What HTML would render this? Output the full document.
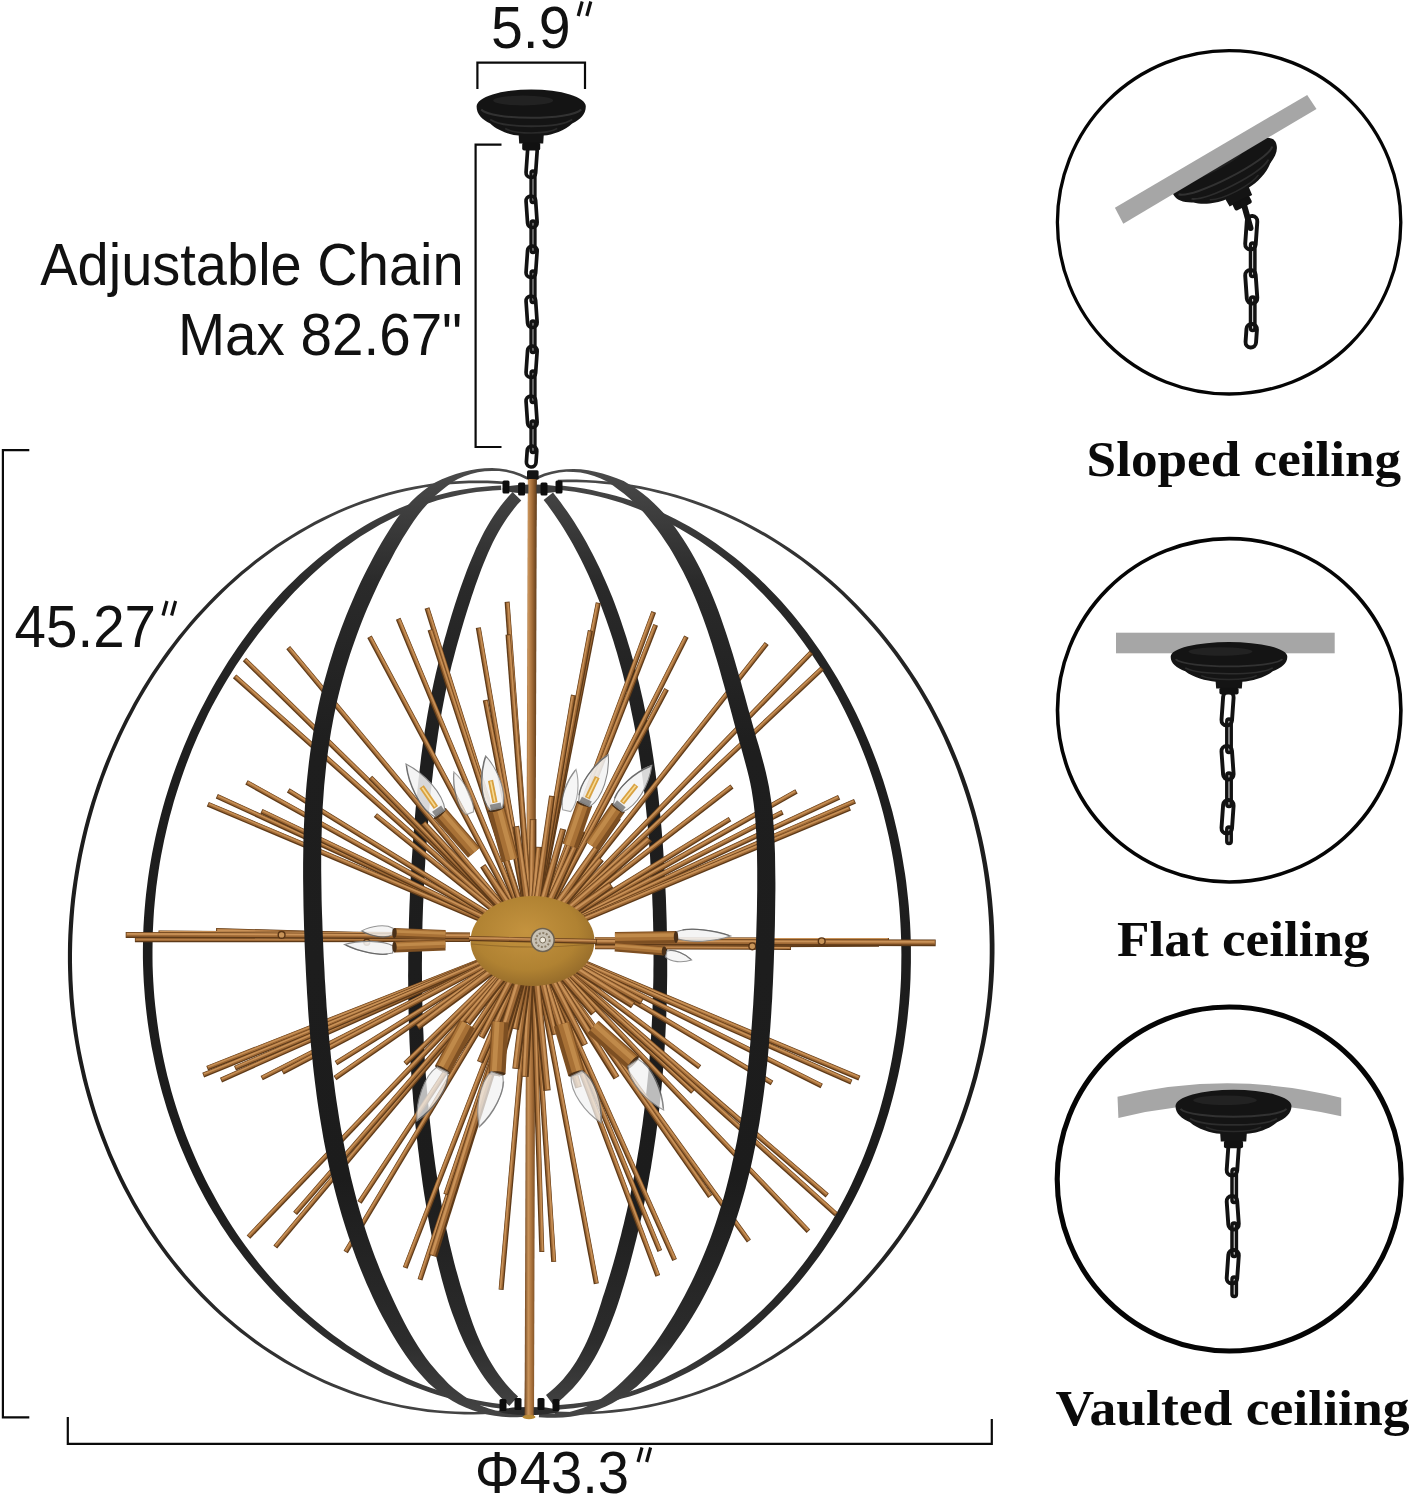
<!DOCTYPE html><html><head><meta charset="utf-8"><style>html,body{margin:0;padding:0;background:#fff}svg{display:block}text{font-family:"Liberation Sans",sans-serif;fill:#111}.ser{font-family:"Liberation Serif",serif;font-weight:bold;fill:#0a0a0a}</style></head><body>
<svg width="1412" height="1500" viewBox="0 0 1412 1500">
<defs>
<linearGradient id="band" gradientUnits="userSpaceOnUse" x1="0" y1="470" x2="0" y2="1415"><stop offset="0" stop-color="#4a4a4a"/><stop offset="0.12" stop-color="#2a2a2a"/><stop offset="0.3" stop-color="#1e1e1e"/><stop offset="0.75" stop-color="#1c1c1c"/><stop offset="0.92" stop-color="#2c2c2c"/><stop offset="1" stop-color="#444"/></linearGradient>
<radialGradient id="hubg" cx="0.45" cy="0.4" r="0.7"><stop offset="0" stop-color="#c4933f"/><stop offset="0.6" stop-color="#b08232"/><stop offset="1" stop-color="#8a6227"/></radialGradient>
<linearGradient id="rod" gradientUnits="userSpaceOnUse" x1="524.5" x2="537" y1="0" y2="0"><stop offset="0" stop-color="#6d4420"/><stop offset="0.3" stop-color="#c9935a"/><stop offset="0.6" stop-color="#a46d38"/><stop offset="1" stop-color="#5e3a18"/></linearGradient>
</defs>
<rect width="1412" height="1500" fill="#fff"/>
<text x="40.2" y="285.1" font-size="58.5" textLength="423.5" lengthAdjust="spacingAndGlyphs">Adjustable Chain</text>
<text x="178" y="355" font-size="58.5" textLength="284.2" lengthAdjust="spacingAndGlyphs">Max 82.67"</text>
<text x="14.6" y="647.3" font-size="58.5" textLength="141.4" lengthAdjust="spacingAndGlyphs">45.27</text>
<text x="474.8" y="1493" font-size="58.5" textLength="154.3" lengthAdjust="spacingAndGlyphs">Φ43.3</text>
<text x="491" y="47.6" font-size="58.5" textLength="79.6" lengthAdjust="spacingAndGlyphs">5.9</text>
<path d="M578.2 16.0 l4 -14.5 M586.8 16.0 l4 -14.5" stroke="#111" stroke-width="3.2" fill="none"/>
<path d="M163.0 615.5 l4 -14.5 M171.6 615.5 l4 -14.5" stroke="#111" stroke-width="3.2" fill="none"/>
<path d="M638.0 1462.0 l4 -14.5 M646.6 1462.0 l4 -14.5" stroke="#111" stroke-width="3.2" fill="none"/>
<g fill="none" stroke="#0a0a0a" stroke-width="2.2">
<path d="M477.4 89 V62.7 H585 V89"/>
<path d="M501.5 144.6 H475.6 V447 H501.5"/>
<path d="M29.3 450.2 H2.9 V1417.4 H29.3"/>
<path d="M67.8 1417 V1443.8 H991.8 V1419"/>
</g>
<text class="ser" x="1086.6" y="476.2" font-size="50.4" textLength="314.6" lengthAdjust="spacingAndGlyphs">Sloped ceiling</text>
<text class="ser" x="1117" y="955.6" font-size="50.4" textLength="252.7" lengthAdjust="spacingAndGlyphs">Flat ceiling</text>
<text class="ser" x="1055.6" y="1425" font-size="50.4" textLength="354" lengthAdjust="spacingAndGlyphs">Vaulted ceiliing</text>
<circle cx="1229.1" cy="222.3" r="171.7" fill="none" stroke="#050505" stroke-width="3.3"/>
<circle cx="1229.2" cy="710.3" r="171.7" fill="none" stroke="#050505" stroke-width="3.6"/>
<circle cx="1229.2" cy="1179" r="172" fill="none" stroke="#050505" stroke-width="5.1"/>
<g transform="translate(1224.1 167.7) rotate(-27.0) scale(1.053 1.000)"><path d="M-54.6,0 A54.6,17 0 0 1 54.6,0 C54.6,8 49,13 41,17 C34,24 21,28.5 12.5,29 L12,37 L-12,37 L-12.5,29 C-21,28.5 -34,24 -41,17 C-49,13 -54.6,8 -54.6,0Z" fill="#141414"/><path d="M-50,3 C-40,14 40,14 50,3" fill="none" stroke="#3a3a3a" stroke-width="2" opacity="0.8"/><path d="M-41,13 C-28,22 28,22 41,13" fill="none" stroke="#333" stroke-width="1.8" opacity="0.8"/><path d="M-26,22 C-16,28 16,28 26,22" fill="none" stroke="#303030" stroke-width="1.5" opacity="0.8"/><ellipse cx="-8" cy="-6" rx="30" ry="5" fill="#2c2c2c" opacity="0.6"/><rect x="-9" y="36" width="18" height="8" rx="2" fill="#111"/></g>
<polygon points="1114.9,207.8 1307.2,94.9 1316.5,108.9 1123.3,223.7" fill="#a6a6a6"/>
<path d="M1243.5,203 L1250.5,228" stroke="#121212" stroke-width="6" stroke-linecap="round"/>
<g fill="none" stroke="#121212" stroke-linecap="round"><rect x="1246.0" y="216.0" width="10.5" height="33.5" rx="5.2" stroke-width="3.9" transform="rotate(4.0 1251.3 232.8)"/><rect x="1250.5" y="243.0" width="4.4" height="33.5" rx="2.2" stroke-width="3.5" transform="rotate(0.0 1252.7 259.8)"/><rect x="1246.0" y="270.0" width="10.5" height="33.5" rx="5.2" stroke-width="3.9" transform="rotate(-4.0 1251.3 286.8)"/><rect x="1250.5" y="297.0" width="4.4" height="33.5" rx="2.2" stroke-width="3.5" transform="rotate(0.0 1252.7 313.8)"/><rect x="1246.0" y="324.0" width="10.5" height="23.5" rx="5.2" stroke-width="3.9" transform="rotate(4.0 1251.3 335.8)"/></g>
<rect x="1116" y="632.7" width="218.7" height="20.6" fill="#a6a6a6"/>
<g fill="none" stroke="#121212" stroke-linecap="round"><rect x="1222.3" y="692.0" width="10.5" height="33.5" rx="5.2" stroke-width="3.9" transform="rotate(4.0 1227.6 708.8)"/><rect x="1226.8" y="719.0" width="4.4" height="33.5" rx="2.2" stroke-width="3.5" transform="rotate(0.0 1229.0 735.8)"/><rect x="1222.3" y="746.0" width="10.5" height="33.5" rx="5.2" stroke-width="3.9" transform="rotate(-4.0 1227.6 762.8)"/><rect x="1226.8" y="773.0" width="4.4" height="33.5" rx="2.2" stroke-width="3.5" transform="rotate(0.0 1229.0 789.8)"/><rect x="1222.3" y="800.0" width="10.5" height="33.5" rx="5.2" stroke-width="3.9" transform="rotate(4.0 1227.6 816.8)"/><rect x="1226.8" y="827.0" width="4.4" height="16.5" rx="2.2" stroke-width="3.5" transform="rotate(0.0 1229.0 835.2)"/></g>
<g transform="translate(1229.0 656.7) rotate(0.0) scale(1.068 0.860)"><path d="M-54.6,0 A54.6,17 0 0 1 54.6,0 C54.6,8 49,13 41,17 C34,24 21,28.5 12.5,29 L12,37 L-12,37 L-12.5,29 C-21,28.5 -34,24 -41,17 C-49,13 -54.6,8 -54.6,0Z" fill="#141414"/><path d="M-50,3 C-40,14 40,14 50,3" fill="none" stroke="#3a3a3a" stroke-width="2" opacity="0.8"/><path d="M-41,13 C-28,22 28,22 41,13" fill="none" stroke="#333" stroke-width="1.8" opacity="0.8"/><path d="M-26,22 C-16,28 16,28 26,22" fill="none" stroke="#303030" stroke-width="1.5" opacity="0.8"/><ellipse cx="-8" cy="-6" rx="30" ry="5" fill="#2c2c2c" opacity="0.6"/><rect x="-9" y="36" width="18" height="8" rx="2" fill="#111"/></g>
<path d="M1117.5,1096.8 Q1229,1069.5 1341.2,1097.7 L1341.2,1116.2 Q1229,1090.5 1118.4,1118Z" fill="#a6a6a6"/>
<g fill="none" stroke="#121212" stroke-linecap="round"><rect x="1227.5" y="1142.0" width="10.5" height="33.5" rx="5.2" stroke-width="3.9" transform="rotate(4.0 1232.8 1158.8)"/><rect x="1232.0" y="1169.0" width="4.4" height="33.5" rx="2.2" stroke-width="3.5" transform="rotate(0.0 1234.2 1185.8)"/><rect x="1227.5" y="1196.0" width="10.5" height="33.5" rx="5.2" stroke-width="3.9" transform="rotate(-4.0 1232.8 1212.8)"/><rect x="1232.0" y="1223.0" width="4.4" height="33.5" rx="2.2" stroke-width="3.5" transform="rotate(0.0 1234.2 1239.8)"/><rect x="1227.5" y="1250.0" width="10.5" height="33.5" rx="5.2" stroke-width="3.9" transform="rotate(4.0 1232.8 1266.8)"/><rect x="1232.0" y="1277.0" width="4.4" height="19.5" rx="2.2" stroke-width="3.5" transform="rotate(0.0 1234.2 1286.8)"/></g>
<g transform="translate(1233.5 1106.0) rotate(0.0) scale(1.062 0.960)"><path d="M-54.6,0 A54.6,17 0 0 1 54.6,0 C54.6,8 49,13 41,17 C34,24 21,28.5 12.5,29 L12,37 L-12,37 L-12.5,29 C-21,28.5 -34,24 -41,17 C-49,13 -54.6,8 -54.6,0Z" fill="#141414"/><path d="M-50,3 C-40,14 40,14 50,3" fill="none" stroke="#3a3a3a" stroke-width="2" opacity="0.8"/><path d="M-41,13 C-28,22 28,22 41,13" fill="none" stroke="#333" stroke-width="1.8" opacity="0.8"/><path d="M-26,22 C-16,28 16,28 26,22" fill="none" stroke="#303030" stroke-width="1.5" opacity="0.8"/><ellipse cx="-8" cy="-6" rx="30" ry="5" fill="#2c2c2c" opacity="0.6"/><rect x="-9" y="36" width="18" height="8" rx="2" fill="#111"/></g>
<g fill="none" stroke="#121212" stroke-linecap="round"><rect x="526.8" y="146.0" width="9.6" height="31.5" rx="4.8" stroke-width="3.7" transform="rotate(4.0 531.6 161.8)"/><rect x="531.0" y="171.0" width="4.0" height="31.5" rx="2.0" stroke-width="3.3" transform="rotate(0.0 533.0 186.8)"/><rect x="526.8" y="196.0" width="9.6" height="31.5" rx="4.8" stroke-width="3.7" transform="rotate(-4.0 531.6 211.8)"/><rect x="531.0" y="221.0" width="4.0" height="31.5" rx="2.0" stroke-width="3.3" transform="rotate(0.0 533.0 236.8)"/><rect x="526.8" y="246.0" width="9.6" height="31.5" rx="4.8" stroke-width="3.7" transform="rotate(4.0 531.6 261.8)"/><rect x="531.0" y="271.0" width="4.0" height="31.5" rx="2.0" stroke-width="3.3" transform="rotate(0.0 533.0 286.8)"/><rect x="526.8" y="296.0" width="9.6" height="31.5" rx="4.8" stroke-width="3.7" transform="rotate(-4.0 531.6 311.8)"/><rect x="531.0" y="321.0" width="4.0" height="31.5" rx="2.0" stroke-width="3.3" transform="rotate(0.0 533.0 336.8)"/><rect x="526.8" y="346.0" width="9.6" height="31.5" rx="4.8" stroke-width="3.7" transform="rotate(4.0 531.6 361.8)"/><rect x="531.0" y="371.0" width="4.0" height="31.5" rx="2.0" stroke-width="3.3" transform="rotate(0.0 533.0 386.8)"/><rect x="526.8" y="396.0" width="9.6" height="31.5" rx="4.8" stroke-width="3.7" transform="rotate(-4.0 531.6 411.8)"/><rect x="531.0" y="421.0" width="4.0" height="31.5" rx="2.0" stroke-width="3.3" transform="rotate(0.0 533.0 436.8)"/><rect x="526.8" y="446.0" width="9.6" height="21.0" rx="4.8" stroke-width="3.7" transform="rotate(4.0 531.6 456.5)"/></g>
<g transform="translate(531.2 106.5) rotate(0.0) scale(1.000 1.000)"><path d="M-54.6,0 A54.6,17 0 0 1 54.6,0 C54.6,8 49,13 41,17 C34,24 21,28.5 12.5,29 L12,37 L-12,37 L-12.5,29 C-21,28.5 -34,24 -41,17 C-49,13 -54.6,8 -54.6,0Z" fill="#141414"/><path d="M-50,3 C-40,14 40,14 50,3" fill="none" stroke="#3a3a3a" stroke-width="2" opacity="0.8"/><path d="M-41,13 C-28,22 28,22 41,13" fill="none" stroke="#333" stroke-width="1.8" opacity="0.8"/><path d="M-26,22 C-16,28 16,28 26,22" fill="none" stroke="#303030" stroke-width="1.5" opacity="0.8"/><ellipse cx="-8" cy="-6" rx="30" ry="5" fill="#2c2c2c" opacity="0.6"/><rect x="-9" y="36" width="18" height="8" rx="2" fill="#111"/></g>
<path d="M506.5,481.7 L497.0,481.0 L487.6,480.6 L478.3,480.5 L469.0,480.6 L459.7,481.0 L450.5,481.6 L441.4,482.5 L432.4,483.6 L423.4,484.9 L414.5,486.5 L405.7,488.3 L397.0,490.3 L388.3,492.6 L379.7,495.1 L371.2,497.7 L362.7,500.6 L354.4,503.7 L346.1,507.0 L338.0,510.5 L329.9,514.2 L321.9,518.1 L314.0,522.1 L306.2,526.4 L298.5,530.8 L290.9,535.4 L283.3,540.2 L275.9,545.1 L268.6,550.2 L261.4,555.4 L254.4,560.8 L247.4,566.4 L240.5,572.1 L233.7,577.9 L227.1,583.9 L220.6,590.0 L214.2,596.3 L207.9,602.7 L201.8,609.2 L195.7,615.8 L189.8,622.5 L184.1,629.4 L178.4,636.3 L172.9,643.4 L167.5,650.6 L162.3,657.8 L157.2,665.2 L152.2,672.6 L147.3,680.2 L142.6,687.8 L138.1,695.5 L133.6,703.3 L129.4,711.2 L125.2,719.1 L121.2,727.2 L117.3,735.3 L113.6,743.4 L110.0,751.7 L106.5,759.9 L103.2,768.3 L100.1,776.7 L97.0,785.2 L94.2,793.7 L91.4,802.3 L88.8,810.9 L86.4,819.6 L84.1,828.3 L82.0,837.0 L80.0,845.8 L78.1,854.6 L76.4,863.5 L74.9,872.3 L73.5,881.3 L72.2,890.2 L71.1,899.1 L70.2,908.1 L69.4,917.1 L68.8,926.1 L68.3,935.1 L68.0,944.1 L67.9,953.1 L67.9,962.2 L68.1,971.2 L68.4,980.2 L68.9,989.2 L69.5,998.2 L70.3,1007.2 L71.3,1016.2 L72.4,1025.2 L73.7,1034.1 L75.2,1043.0 L76.8,1051.9 L78.5,1060.8 L80.5,1069.6 L82.5,1078.4 L84.8,1087.2 L87.2,1095.9 L89.7,1104.6 L92.4,1113.2 L95.2,1121.7 L98.2,1130.2 L101.4,1138.7 L104.7,1147.1 L108.1,1155.4 L111.7,1163.6 L115.4,1171.8 L119.3,1179.9 L123.3,1187.9 L127.5,1195.8 L131.8,1203.7 L136.3,1211.5 L140.9,1219.1 L145.6,1226.7 L150.5,1234.2 L155.5,1241.6 L160.7,1248.8 L166.0,1256.0 L171.5,1263.0 L177.0,1270.0 L182.7,1276.8 L188.6,1283.5 L194.6,1290.0 L200.7,1296.5 L207.0,1302.8 L213.4,1308.9 L219.9,1315.0 L226.5,1320.8 L233.3,1326.6 L240.2,1332.2 L247.3,1337.6 L254.4,1342.9 L261.7,1348.0 L269.1,1353.0 L276.6,1357.8 L284.2,1362.4 L292.0,1366.8 L299.8,1371.1 L307.7,1375.2 L315.7,1379.1 L323.9,1382.9 L332.1,1386.4 L340.4,1389.7 L348.8,1392.9 L357.2,1395.9 L365.8,1398.6 L374.4,1401.1 L383.1,1403.5 L391.9,1405.6 L400.8,1407.5 L409.7,1409.2 L418.7,1410.6 L427.7,1411.9 L436.8,1412.8 L446.0,1413.6 L455.2,1414.1 L464.4,1414.4 L473.7,1414.5 L483.1,1414.2 L492.5,1413.8 L501.9,1413.1 L501.7,1410.5 L492.3,1411.2 L483.0,1411.7 L473.7,1411.9 L464.5,1411.8 L455.3,1411.5 L446.2,1411.0 L437.1,1410.3 L428.0,1409.3 L419.1,1408.0 L410.1,1406.6 L401.3,1404.9 L392.5,1403.0 L383.8,1400.9 L375.2,1398.5 L366.6,1396.0 L358.1,1393.2 L349.7,1390.3 L341.4,1387.1 L333.2,1383.8 L325.0,1380.2 L317.0,1376.5 L309.0,1372.6 L301.2,1368.5 L293.4,1364.2 L285.8,1359.8 L278.3,1355.1 L270.8,1350.3 L263.5,1345.4 L256.3,1340.3 L249.3,1335.0 L242.3,1329.6 L235.5,1324.0 L228.8,1318.3 L222.2,1312.4 L215.8,1306.4 L209.5,1300.2 L203.3,1294.0 L197.2,1287.6 L191.3,1281.1 L185.5,1274.4 L179.9,1267.6 L174.3,1260.8 L168.9,1253.8 L163.7,1246.7 L158.6,1239.4 L153.6,1232.1 L148.8,1224.7 L144.1,1217.2 L139.5,1209.6 L135.1,1201.9 L130.8,1194.1 L126.7,1186.2 L122.7,1178.2 L118.9,1170.2 L115.2,1162.1 L111.6,1153.9 L108.2,1145.6 L105.0,1137.3 L101.9,1128.9 L98.9,1120.5 L96.1,1112.0 L93.5,1103.4 L91.0,1094.8 L88.6,1086.2 L86.4,1077.5 L84.4,1068.8 L82.5,1060.0 L80.7,1051.2 L79.1,1042.4 L77.7,1033.5 L76.5,1024.6 L75.3,1015.7 L74.4,1006.8 L73.6,997.9 L73.0,989.0 L72.5,980.0 L72.2,971.1 L72.0,962.1 L72.0,953.2 L72.2,944.2 L72.5,935.3 L73.0,926.3 L73.6,917.4 L74.3,908.5 L75.2,899.6 L76.3,890.7 L77.5,881.8 L78.9,873.0 L80.4,864.2 L82.0,855.4 L83.9,846.6 L85.8,837.9 L87.9,829.2 L90.2,820.6 L92.6,812.0 L95.1,803.4 L97.8,794.9 L100.7,786.4 L103.6,778.0 L106.8,769.7 L110.0,761.4 L113.4,753.1 L117.0,744.9 L120.7,736.8 L124.5,728.8 L128.5,720.8 L132.6,712.9 L136.8,705.1 L141.2,697.3 L145.7,689.7 L150.4,682.1 L155.2,674.6 L160.1,667.2 L165.2,659.9 L170.4,652.7 L175.7,645.5 L181.1,638.5 L186.7,631.6 L192.4,624.8 L198.3,618.1 L204.3,611.5 L210.4,605.0 L216.6,598.7 L222.9,592.4 L229.4,586.3 L235.9,580.4 L242.6,574.6 L249.4,568.9 L256.3,563.3 L263.3,557.9 L270.4,552.7 L277.7,547.6 L285.0,542.7 L292.4,537.9 L300.0,533.4 L307.6,528.9 L315.3,524.7 L323.2,520.7 L331.1,516.8 L339.1,513.1 L347.2,509.6 L355.4,506.3 L363.7,503.3 L372.0,500.4 L380.5,497.7 L389.0,495.2 L397.6,493.0 L406.3,491.0 L415.0,489.2 L423.9,487.6 L432.8,486.2 L441.7,485.1 L450.8,484.3 L459.9,483.7 L469.0,483.3 L478.3,483.2 L487.5,483.3 L496.9,483.7 L506.3,484.3Z" fill="url(#band)"/>
<path d="M557.9,482.3 L567.3,482.2 L576.7,482.3 L586.0,482.6 L595.2,483.1 L604.4,483.9 L613.6,484.8 L622.6,486.0 L631.6,487.4 L640.5,489.0 L649.4,490.8 L658.1,492.9 L666.8,495.1 L675.4,497.5 L684.0,500.1 L692.4,502.9 L700.8,505.9 L709.1,509.1 L717.3,512.5 L725.4,516.0 L733.4,519.7 L741.4,523.6 L749.2,527.7 L756.9,531.9 L764.6,536.3 L772.1,540.8 L779.6,545.6 L786.9,550.4 L794.1,555.5 L801.3,560.6 L808.3,565.9 L815.2,571.4 L822.0,577.0 L828.7,582.7 L835.2,588.6 L841.7,594.6 L848.0,600.8 L854.2,607.0 L860.3,613.4 L866.3,619.9 L872.1,626.5 L877.9,633.2 L883.4,640.1 L888.9,647.0 L894.2,654.0 L899.4,661.2 L904.4,668.4 L909.4,675.8 L914.1,683.2 L918.8,690.7 L923.3,698.4 L927.6,706.1 L931.8,713.8 L935.9,721.7 L939.8,729.6 L943.6,737.6 L947.2,745.7 L950.7,753.9 L954.1,762.1 L957.3,770.3 L960.3,778.7 L963.2,787.1 L966.0,795.5 L968.6,804.0 L971.1,812.5 L973.4,821.1 L975.5,829.7 L977.6,838.4 L979.4,847.1 L981.1,855.8 L982.7,864.6 L984.1,873.4 L985.3,882.2 L986.4,891.0 L987.3,899.9 L988.1,908.8 L988.7,917.6 L989.2,926.5 L989.5,935.4 L989.7,944.3 L989.7,953.3 L989.6,962.2 L989.2,971.1 L988.8,980.0 L988.2,988.9 L987.4,997.7 L986.4,1006.6 L985.3,1015.4 L984.0,1024.3 L982.6,1033.1 L981.0,1041.9 L979.2,1050.6 L977.3,1059.3 L975.2,1068.0 L973.0,1076.7 L970.6,1085.3 L968.1,1093.8 L965.4,1102.3 L962.5,1110.8 L959.5,1119.2 L956.4,1127.6 L953.1,1135.9 L949.7,1144.1 L946.1,1152.3 L942.4,1160.4 L938.6,1168.4 L934.6,1176.3 L930.4,1184.2 L926.1,1192.0 L921.7,1199.7 L917.2,1207.3 L912.5,1214.9 L907.7,1222.3 L902.8,1229.6 L897.7,1236.9 L892.5,1244.0 L887.1,1251.1 L881.7,1258.0 L876.1,1264.8 L870.4,1271.5 L864.6,1278.1 L858.6,1284.6 L852.5,1290.9 L846.4,1297.1 L840.1,1303.2 L833.6,1309.2 L827.1,1315.0 L820.5,1320.7 L813.7,1326.3 L806.9,1331.7 L799.9,1336.9 L792.8,1342.0 L785.6,1347.0 L778.3,1351.8 L770.9,1356.4 L763.4,1360.9 L755.8,1365.2 L748.0,1369.4 L740.2,1373.3 L732.3,1377.1 L724.3,1380.8 L716.1,1384.2 L707.9,1387.4 L699.6,1390.5 L691.2,1393.4 L682.7,1396.0 L674.1,1398.5 L665.5,1400.8 L656.7,1402.9 L647.9,1404.8 L638.9,1406.4 L629.9,1407.9 L620.8,1409.1 L611.6,1410.1 L602.3,1410.9 L593.0,1411.5 L583.6,1411.8 L574.1,1411.9 L564.5,1411.8 L554.9,1411.4 L554.7,1414.0 L564.4,1414.4 L574.1,1414.5 L583.6,1414.4 L593.1,1414.1 L602.5,1413.5 L611.9,1412.7 L621.1,1411.7 L630.3,1410.5 L639.4,1409.0 L648.4,1407.4 L657.3,1405.5 L666.1,1403.4 L674.9,1401.2 L683.5,1398.7 L692.1,1396.0 L700.6,1393.2 L708.9,1390.1 L717.2,1386.9 L725.4,1383.4 L733.5,1379.8 L741.5,1376.0 L749.4,1372.1 L757.2,1367.9 L764.9,1363.6 L772.5,1359.2 L780.0,1354.5 L787.4,1349.7 L794.7,1344.8 L801.9,1339.7 L809.0,1334.4 L815.9,1329.0 L822.8,1323.4 L829.5,1317.8 L836.1,1311.9 L842.6,1305.9 L849.0,1299.8 L855.3,1293.6 L861.4,1287.2 L867.4,1280.7 L873.3,1274.1 L879.1,1267.3 L884.7,1260.4 L890.3,1253.5 L895.6,1246.4 L900.9,1239.2 L906.0,1231.9 L911.0,1224.5 L915.9,1217.0 L920.7,1209.4 L925.3,1201.8 L929.7,1194.0 L934.1,1186.2 L938.2,1178.2 L942.3,1170.2 L946.2,1162.1 L950.0,1154.0 L953.6,1145.8 L957.1,1137.5 L960.4,1129.1 L963.6,1120.7 L966.6,1112.2 L969.5,1103.7 L972.2,1095.1 L974.8,1086.5 L977.3,1077.8 L979.5,1069.1 L981.6,1060.3 L983.6,1051.5 L985.4,1042.7 L987.0,1033.9 L988.5,1025.0 L989.8,1016.1 L991.0,1007.1 L992.0,998.2 L992.8,989.2 L993.5,980.3 L994.0,971.3 L994.3,962.3 L994.5,953.3 L994.5,944.3 L994.3,935.3 L994.0,926.3 L993.5,917.3 L992.8,908.4 L992.0,899.4 L991.0,890.5 L989.9,881.6 L988.6,872.7 L987.1,863.8 L985.5,855.0 L983.8,846.2 L981.9,837.4 L979.8,828.7 L977.6,820.0 L975.3,811.4 L972.7,802.8 L970.1,794.2 L967.3,785.7 L964.3,777.2 L961.2,768.9 L957.9,760.5 L954.5,752.3 L951.0,744.1 L947.3,735.9 L943.5,727.9 L939.5,719.9 L935.3,712.0 L931.1,704.1 L926.7,696.4 L922.1,688.7 L917.4,681.1 L912.6,673.7 L907.6,666.3 L902.5,659.0 L897.3,651.8 L891.9,644.7 L886.4,637.7 L880.7,630.8 L874.9,624.1 L869.0,617.4 L863.0,610.9 L856.8,604.5 L850.5,598.2 L844.1,592.1 L837.6,586.0 L830.9,580.1 L824.2,574.4 L817.3,568.8 L810.3,563.3 L803.2,558.0 L796.0,552.8 L788.7,547.8 L781.3,542.9 L773.8,538.2 L766.1,533.6 L758.4,529.2 L750.6,525.0 L742.7,520.9 L734.7,517.0 L726.6,513.3 L718.4,509.8 L710.2,506.4 L701.8,503.2 L693.4,500.2 L684.8,497.4 L676.2,494.8 L667.5,492.4 L658.8,490.2 L649.9,488.2 L641.0,486.3 L632.0,484.7 L623.0,483.3 L613.9,482.1 L604.7,481.2 L595.4,480.4 L586.1,479.9 L576.7,479.6 L567.3,479.5 L557.8,479.7Z" fill="url(#band)"/>
<path d="M501.1,485.6 L492.7,486.0 L484.4,486.7 L476.2,487.6 L468.0,488.7 L460.0,490.1 L452.0,491.6 L444.1,493.4 L436.3,495.5 L428.6,497.7 L421.0,500.1 L413.5,502.8 L406.1,505.6 L398.7,508.6 L391.4,511.8 L384.3,515.2 L377.2,518.8 L370.2,522.6 L363.4,526.6 L356.6,530.7 L349.9,535.0 L343.3,539.5 L336.8,544.1 L330.4,548.9 L324.1,553.8 L317.9,558.8 L311.8,563.9 L305.8,569.2 L299.9,574.6 L294.1,580.2 L288.4,585.8 L282.7,591.5 L277.2,597.4 L271.9,603.4 L266.7,609.5 L261.5,615.7 L256.5,621.9 L251.6,628.3 L246.8,634.7 L242.0,641.2 L237.4,647.7 L232.9,654.4 L228.5,661.1 L224.2,667.9 L220.1,674.7 L216.0,681.6 L212.0,688.6 L208.2,695.6 L204.4,702.7 L200.7,709.8 L197.1,717.0 L193.7,724.2 L190.3,731.5 L187.1,738.9 L184.0,746.3 L181.0,753.7 L178.1,761.2 L175.3,768.7 L172.6,776.3 L170.0,783.9 L167.6,791.6 L165.2,799.2 L163.0,807.0 L160.9,814.7 L158.9,822.5 L157.0,830.3 L155.2,838.2 L153.6,846.1 L152.0,854.0 L150.6,861.9 L149.3,869.8 L148.1,877.8 L147.1,885.8 L146.1,893.8 L145.3,901.8 L144.6,909.8 L144.0,917.9 L143.5,925.9 L143.2,934.0 L143.0,942.0 L142.9,950.1 L142.9,958.1 L143.1,966.2 L143.4,974.3 L143.8,982.3 L144.4,990.4 L145.0,998.4 L145.8,1006.4 L146.7,1014.5 L147.7,1022.5 L148.9,1030.5 L150.2,1038.4 L151.5,1046.4 L153.1,1054.3 L154.7,1062.2 L156.4,1070.0 L158.3,1077.9 L160.3,1085.7 L162.4,1093.5 L164.7,1101.2 L167.0,1108.9 L169.5,1116.5 L172.1,1124.1 L174.8,1131.7 L177.6,1139.2 L180.6,1146.7 L183.7,1154.1 L186.9,1161.5 L190.2,1168.8 L193.6,1176.0 L197.1,1183.2 L200.8,1190.3 L204.6,1197.4 L208.5,1204.4 L212.5,1211.3 L216.7,1218.1 L220.9,1224.9 L225.3,1231.6 L229.8,1238.2 L234.5,1244.7 L239.2,1251.1 L244.0,1257.5 L249.0,1263.8 L254.1,1270.0 L259.3,1276.0 L264.6,1282.0 L270.0,1287.9 L275.5,1293.7 L281.1,1299.4 L286.9,1305.0 L292.7,1310.5 L298.6,1315.9 L304.7,1321.1 L310.8,1326.3 L317.0,1331.3 L323.4,1336.2 L329.9,1340.9 L336.4,1345.5 L343.0,1350.0 L349.8,1354.3 L356.6,1358.5 L363.5,1362.6 L370.5,1366.5 L377.5,1370.2 L384.6,1373.9 L391.9,1377.3 L399.2,1380.6 L406.5,1383.8 L414.0,1386.8 L421.5,1389.6 L429.1,1392.3 L436.7,1394.8 L444.4,1397.1 L452.2,1399.3 L460.1,1401.2 L468.0,1403.0 L476.0,1404.7 L484.0,1406.1 L492.1,1407.4 L500.3,1408.4 L500.8,1404.0 L492.8,1402.9 L484.8,1401.7 L476.8,1400.3 L469.0,1398.6 L461.2,1396.8 L453.4,1394.8 L445.8,1392.6 L438.2,1390.2 L430.7,1387.7 L423.2,1385.0 L415.8,1382.1 L408.5,1379.0 L401.3,1375.8 L394.2,1372.5 L387.1,1368.9 L380.2,1365.2 L373.3,1361.4 L366.5,1357.4 L359.8,1353.3 L353.1,1349.1 L346.6,1344.7 L340.2,1340.1 L333.8,1335.5 L327.6,1330.7 L321.4,1325.8 L315.3,1320.8 L309.4,1315.7 L303.5,1310.5 L297.7,1305.1 L292.0,1299.7 L286.4,1294.1 L281.0,1288.5 L275.6,1282.7 L270.4,1276.9 L265.2,1270.9 L260.2,1264.9 L255.3,1258.8 L250.5,1252.5 L245.8,1246.2 L241.3,1239.9 L236.8,1233.4 L232.5,1226.9 L228.2,1220.3 L224.1,1213.6 L220.1,1206.8 L216.3,1200.0 L212.5,1193.1 L208.8,1186.2 L205.2,1179.2 L201.7,1172.1 L198.4,1165.0 L195.2,1157.8 L192.1,1150.6 L189.1,1143.3 L186.2,1135.9 L183.4,1128.6 L180.8,1121.1 L178.2,1113.6 L175.8,1106.1 L173.5,1098.6 L171.3,1091.0 L169.3,1083.3 L167.3,1075.7 L165.5,1068.0 L163.8,1060.2 L162.2,1052.5 L160.8,1044.7 L159.4,1036.9 L158.2,1029.1 L157.1,1021.2 L156.1,1013.3 L155.2,1005.5 L154.4,997.6 L153.8,989.7 L153.3,981.8 L152.9,973.9 L152.6,965.9 L152.5,958.0 L152.5,950.1 L152.6,942.2 L152.7,934.3 L153.1,926.4 L153.5,918.5 L154.0,910.6 L154.7,902.7 L155.5,894.8 L156.3,886.9 L157.4,879.1 L158.5,871.2 L159.7,863.4 L161.1,855.6 L162.6,847.9 L164.2,840.1 L165.9,832.4 L167.7,824.7 L169.6,817.0 L171.7,809.4 L173.8,801.8 L176.1,794.2 L178.5,786.7 L181.0,779.2 L183.6,771.7 L186.3,764.3 L189.1,756.9 L192.0,749.6 L195.1,742.3 L198.2,735.1 L201.5,727.9 L204.9,720.7 L208.3,713.6 L211.9,706.6 L215.6,699.7 L219.5,692.8 L223.4,685.9 L227.4,679.2 L231.6,672.4 L235.8,665.8 L240.2,659.2 L244.6,652.7 L249.2,646.3 L253.8,639.9 L258.6,633.6 L263.5,627.4 L268.4,621.3 L273.5,615.3 L278.6,609.3 L283.9,603.4 L289.2,597.6 L294.5,591.8 L300.0,586.2 L305.6,580.7 L311.3,575.2 L317.1,569.9 L323.0,564.7 L328.9,559.7 L335.0,554.8 L341.2,550.0 L347.5,545.4 L353.8,540.9 L360.3,536.6 L366.9,532.4 L373.6,528.4 L380.3,524.6 L387.2,520.9 L394.1,517.4 L401.1,514.0 L408.2,510.9 L415.5,507.9 L422.8,505.2 L430.2,502.7 L437.7,500.3 L445.3,498.2 L453.1,496.4 L460.9,494.7 L468.7,493.3 L476.7,492.1 L484.8,491.2 L493.0,490.5 L501.3,490.1Z" fill="url(#band)"/>
<path d="M558.3,489.7 L566.6,490.7 L574.8,491.8 L582.9,493.2 L590.9,494.8 L598.8,496.6 L606.6,498.6 L614.3,500.7 L621.9,503.1 L629.4,505.7 L636.8,508.4 L644.1,511.4 L651.4,514.5 L658.5,517.8 L665.5,521.2 L672.4,524.8 L679.2,528.5 L686.0,532.4 L692.6,536.4 L699.1,540.6 L705.6,544.9 L711.9,549.4 L718.1,554.0 L724.3,558.7 L730.3,563.6 L736.2,568.6 L742.1,573.7 L747.8,579.0 L753.4,584.4 L758.9,589.9 L764.4,595.5 L769.7,601.2 L774.9,606.9 L780.1,612.8 L785.1,618.8 L790.0,624.8 L794.9,631.0 L799.6,637.2 L804.2,643.6 L808.8,650.0 L813.2,656.5 L817.5,663.0 L821.7,669.6 L825.8,676.3 L829.8,683.1 L833.7,689.9 L837.5,696.8 L841.1,703.7 L844.7,710.7 L848.1,717.8 L851.5,724.9 L854.7,732.0 L857.9,739.2 L860.9,746.5 L863.8,753.8 L866.6,761.1 L869.3,768.5 L871.9,776.0 L874.4,783.4 L876.8,791.0 L879.1,798.5 L881.2,806.1 L883.3,813.7 L885.2,821.4 L887.0,829.0 L888.8,836.7 L890.4,844.5 L891.9,852.2 L893.3,860.0 L894.5,867.8 L895.7,875.7 L896.8,883.5 L897.7,891.4 L898.6,899.2 L899.3,907.1 L899.9,915.0 L900.4,922.9 L900.8,930.9 L901.1,938.8 L901.3,946.7 L901.4,954.6 L901.3,962.6 L901.2,970.5 L901.0,978.5 L900.6,986.4 L900.1,994.3 L899.5,1002.2 L898.8,1010.1 L898.0,1018.0 L897.1,1025.9 L896.1,1033.8 L894.9,1041.6 L893.6,1049.4 L892.3,1057.2 L890.8,1065.0 L889.2,1072.8 L887.5,1080.5 L885.6,1088.2 L883.7,1095.8 L881.6,1103.5 L879.5,1111.0 L877.2,1118.6 L874.8,1126.1 L872.2,1133.6 L869.6,1141.0 L866.9,1148.3 L864.0,1155.7 L861.0,1162.9 L857.9,1170.1 L854.7,1177.3 L851.4,1184.4 L848.0,1191.4 L844.4,1198.4 L840.8,1205.3 L837.0,1212.2 L833.2,1219.0 L829.2,1225.7 L825.1,1232.3 L820.8,1238.9 L816.5,1245.4 L812.0,1251.8 L807.4,1258.2 L802.7,1264.4 L797.9,1270.6 L793.0,1276.7 L788.0,1282.7 L782.8,1288.5 L777.5,1294.3 L772.2,1300.0 L766.7,1305.6 L761.1,1311.0 L755.4,1316.3 L749.6,1321.5 L743.7,1326.6 L737.7,1331.7 L731.6,1336.6 L725.4,1341.3 L719.2,1345.9 L712.8,1350.4 L706.3,1354.8 L699.7,1358.9 L693.0,1363.0 L686.2,1366.9 L679.3,1370.6 L672.3,1374.1 L665.2,1377.5 L658.1,1380.8 L650.8,1383.8 L643.4,1386.7 L636.0,1389.4 L628.4,1391.9 L620.8,1394.2 L613.0,1396.3 L605.2,1398.2 L597.3,1399.9 L589.3,1401.4 L581.2,1402.7 L573.1,1403.7 L564.8,1404.6 L556.5,1405.3 L556.8,1409.7 L565.3,1409.1 L573.6,1408.2 L581.9,1407.1 L590.1,1405.8 L598.2,1404.3 L606.2,1402.6 L614.2,1400.7 L622.0,1398.6 L629.8,1396.4 L637.5,1394.0 L645.1,1391.3 L652.7,1388.5 L660.1,1385.6 L667.5,1382.4 L674.7,1379.1 L681.9,1375.6 L689.0,1372.0 L696.0,1368.2 L702.9,1364.2 L709.7,1360.1 L716.4,1355.8 L723.0,1351.4 L729.5,1346.9 L735.9,1342.2 L742.3,1337.4 L748.5,1332.4 L754.6,1327.2 L760.5,1322.0 L766.4,1316.6 L772.1,1311.1 L777.8,1305.4 L783.3,1299.7 L788.7,1293.9 L794.0,1287.9 L799.2,1281.9 L804.3,1275.7 L809.2,1269.5 L814.1,1263.1 L818.8,1256.7 L823.4,1250.2 L827.9,1243.6 L832.3,1237.0 L836.6,1230.2 L840.7,1223.4 L844.7,1216.5 L848.6,1209.6 L852.4,1202.6 L856.0,1195.5 L859.6,1188.3 L863.0,1181.1 L866.2,1173.8 L869.4,1166.4 L872.5,1159.0 L875.4,1151.6 L878.2,1144.1 L880.9,1136.6 L883.5,1129.0 L885.9,1121.3 L888.3,1113.7 L890.5,1105.9 L892.6,1098.2 L894.6,1090.4 L896.5,1082.6 L898.3,1074.7 L899.9,1066.9 L901.4,1058.9 L902.9,1051.0 L904.2,1043.1 L905.3,1035.1 L906.4,1027.1 L907.4,1019.1 L908.2,1011.0 L909.0,1003.0 L909.6,995.0 L910.1,986.9 L910.5,978.8 L910.7,970.8 L910.9,962.7 L910.9,954.6 L910.9,946.6 L910.7,938.5 L910.4,930.4 L910.0,922.4 L909.4,914.3 L908.8,906.3 L908.0,898.3 L907.1,890.3 L906.2,882.3 L905.1,874.3 L903.8,866.4 L902.5,858.4 L901.1,850.5 L899.5,842.6 L897.9,834.8 L896.1,826.9 L894.2,819.1 L892.3,811.3 L890.1,803.6 L887.9,795.9 L885.6,788.2 L883.2,780.6 L880.6,773.0 L878.0,765.4 L875.2,757.9 L872.3,750.5 L869.3,743.0 L866.2,735.7 L863.0,728.3 L859.7,721.1 L856.3,713.8 L852.8,706.7 L849.1,699.6 L845.3,692.5 L841.5,685.5 L837.5,678.6 L833.4,671.8 L829.2,665.0 L824.9,658.2 L820.5,651.6 L815.9,645.0 L811.3,638.5 L806.6,632.0 L801.7,625.7 L796.8,619.5 L791.7,613.3 L786.5,607.2 L781.3,601.3 L775.9,595.4 L770.3,589.7 L764.7,584.1 L759.0,578.6 L753.2,573.2 L747.2,567.9 L741.2,562.8 L735.1,557.8 L728.8,552.9 L722.5,548.2 L716.1,543.5 L709.5,539.1 L702.9,534.8 L696.2,530.6 L689.4,526.6 L682.4,522.7 L675.4,519.0 L668.3,515.5 L661.0,512.1 L653.7,509.0 L646.3,506.0 L638.8,503.2 L631.2,500.6 L623.5,498.1 L615.7,495.8 L607.8,493.7 L599.9,491.9 L591.8,490.1 L583.7,488.6 L575.5,487.3 L567.2,486.2 L558.7,485.3Z" fill="url(#band)"/>
<path d="M512.6,492.1 L508.4,496.6 L504.4,501.3 L500.6,506.1 L497.0,511.0 L493.6,516.0 L490.4,521.1 L487.3,526.3 L484.3,531.6 L481.5,537.0 L478.9,542.4 L476.3,547.8 L473.9,553.4 L471.5,558.9 L469.2,564.5 L467.0,570.1 L464.9,575.7 L462.8,581.4 L460.8,587.1 L458.8,592.8 L456.9,598.5 L455.0,604.2 L453.2,609.9 L451.4,615.7 L449.7,621.4 L448.0,627.2 L446.4,633.0 L444.7,638.7 L443.2,644.5 L441.6,650.3 L440.1,656.1 L438.6,661.9 L437.2,667.7 L435.8,673.5 L434.5,679.3 L433.2,685.2 L432.0,691.0 L430.8,696.9 L429.7,702.8 L428.6,708.6 L427.5,714.5 L426.5,720.4 L425.6,726.3 L424.6,732.2 L423.8,738.1 L422.9,744.0 L422.1,749.9 L421.3,755.8 L420.6,761.8 L419.9,767.7 L419.2,773.6 L418.5,779.5 L417.9,785.5 L417.3,791.4 L416.7,797.3 L416.2,803.3 L415.6,809.2 L415.1,815.1 L414.6,821.1 L414.1,827.0 L413.7,833.0 L413.2,838.9 L412.8,844.9 L412.4,850.8 L412.0,856.8 L411.6,862.7 L411.3,868.7 L410.9,874.6 L410.6,880.6 L410.3,886.5 L410.0,892.5 L409.8,898.4 L409.5,904.4 L409.3,910.3 L409.1,916.3 L408.9,922.3 L408.8,928.2 L408.6,934.2 L408.5,940.1 L408.4,946.1 L408.3,952.1 L408.2,958.0 L408.2,964.0 L408.2,970.0 L408.1,975.9 L408.2,981.9 L408.2,987.8 L408.2,993.8 L408.3,999.8 L408.4,1005.7 L408.6,1011.7 L408.7,1017.7 L408.9,1023.6 L409.1,1029.6 L409.3,1035.6 L409.5,1041.5 L409.8,1047.5 L410.1,1053.4 L410.4,1059.4 L410.7,1065.4 L411.1,1071.3 L411.5,1077.3 L411.9,1083.2 L412.3,1089.2 L412.8,1095.1 L413.2,1101.1 L413.8,1107.0 L414.3,1113.0 L414.8,1118.9 L415.4,1124.9 L416.0,1130.8 L416.7,1136.8 L417.4,1142.7 L418.0,1148.6 L418.8,1154.6 L419.5,1160.5 L420.3,1166.4 L421.1,1172.4 L421.9,1178.3 L422.7,1184.2 L423.6,1190.2 L424.5,1196.1 L425.5,1202.0 L426.5,1207.9 L427.5,1213.8 L428.5,1219.7 L429.6,1225.6 L430.8,1231.5 L432.0,1237.4 L433.2,1243.3 L434.5,1249.2 L435.8,1255.0 L437.2,1260.9 L438.6,1266.7 L440.1,1272.5 L441.6,1278.4 L443.2,1284.2 L444.8,1289.9 L446.5,1295.7 L448.2,1301.5 L450.1,1307.2 L452.1,1312.9 L454.2,1318.6 L456.4,1324.3 L458.6,1329.9 L461.0,1335.5 L463.4,1341.0 L466.0,1346.5 L468.8,1352.0 L471.6,1357.3 L474.6,1362.6 L477.8,1367.8 L481.1,1373.0 L484.5,1378.0 L488.2,1383.0 L492.1,1387.8 L496.1,1392.5 L500.3,1397.1 L504.7,1401.6 L509.3,1406.0 L518.1,1396.4 L513.8,1392.4 L509.8,1388.2 L506.0,1383.9 L502.4,1379.5 L499.0,1374.9 L495.7,1370.3 L492.7,1365.5 L489.7,1360.6 L487.0,1355.7 L484.3,1350.6 L481.8,1345.5 L479.5,1340.3 L477.2,1335.0 L475.1,1329.7 L473.0,1324.3 L471.1,1318.8 L469.2,1313.3 L467.4,1307.8 L465.6,1302.2 L464.0,1296.6 L462.2,1291.0 L460.5,1285.4 L458.9,1279.7 L457.3,1274.1 L455.7,1268.4 L454.2,1262.7 L452.8,1257.1 L451.4,1251.3 L450.0,1245.6 L448.7,1239.9 L447.5,1234.1 L446.2,1228.4 L445.0,1222.6 L443.9,1216.8 L442.8,1211.0 L441.7,1205.2 L440.7,1199.4 L439.7,1193.6 L438.7,1187.8 L437.8,1182.0 L436.9,1176.1 L436.0,1170.3 L435.2,1164.4 L434.4,1158.6 L433.6,1152.7 L432.9,1146.8 L432.1,1141.0 L431.4,1135.1 L430.8,1129.2 L430.1,1123.3 L429.5,1117.5 L428.9,1111.6 L428.4,1105.7 L427.8,1099.8 L427.3,1093.9 L426.8,1088.0 L426.3,1082.2 L425.9,1076.3 L425.5,1070.4 L425.1,1064.5 L424.7,1058.6 L424.4,1052.7 L424.0,1046.8 L423.7,1040.9 L423.5,1035.0 L423.2,1029.1 L423.0,1023.2 L422.8,1017.2 L422.6,1011.3 L422.4,1005.4 L422.3,999.5 L422.2,993.6 L422.1,987.7 L422.0,981.8 L422.0,975.9 L421.9,970.0 L421.9,964.0 L422.0,958.1 L422.0,952.2 L422.0,946.3 L422.1,940.4 L422.2,934.5 L422.4,928.6 L422.5,922.6 L422.7,916.7 L422.9,910.8 L423.1,904.9 L423.4,899.0 L423.6,893.1 L423.9,887.2 L424.2,881.3 L424.5,875.3 L424.8,869.4 L425.2,863.5 L425.5,857.6 L425.9,851.7 L426.3,845.8 L426.8,839.9 L427.2,834.0 L427.7,828.1 L428.1,822.2 L428.6,816.3 L429.1,810.4 L429.7,804.5 L430.2,798.6 L430.8,792.7 L431.4,786.9 L432.0,781.0 L432.7,775.1 L433.3,769.3 L434.0,763.4 L434.8,757.6 L435.5,751.7 L436.3,745.9 L437.2,740.1 L438.0,734.2 L438.9,728.4 L439.9,722.6 L440.9,716.8 L441.9,711.1 L443.0,705.3 L444.1,699.5 L445.2,693.8 L446.4,688.0 L447.7,682.3 L449.0,676.6 L450.3,670.9 L451.7,665.1 L453.2,659.4 L454.7,653.7 L456.2,648.0 L457.8,642.3 L459.4,636.7 L461.0,631.0 L462.7,625.3 L464.4,619.6 L466.1,613.9 L467.9,608.3 L469.7,602.7 L471.5,597.0 L473.4,591.4 L475.3,585.8 L477.3,580.3 L479.3,574.8 L481.3,569.3 L483.5,563.8 L485.7,558.4 L488.0,553.1 L490.4,547.8 L492.8,542.6 L495.4,537.5 L498.1,532.5 L501.0,527.6 L504.0,522.7 L507.1,518.0 L510.4,513.4 L513.8,508.9 L517.4,504.6 L521.3,500.4Z" fill="url(#band)"/>
<path d="M543.6,500.0 L547.2,504.6 L550.6,509.2 L554.0,513.9 L557.2,518.7 L560.4,523.6 L563.6,528.5 L566.6,533.4 L569.6,538.5 L572.5,543.6 L575.3,548.7 L578.1,553.9 L580.7,559.1 L583.4,564.4 L585.9,569.8 L588.4,575.1 L590.8,580.6 L593.1,586.0 L595.4,591.5 L597.6,597.0 L599.8,602.5 L601.9,608.1 L604.0,613.7 L606.0,619.3 L608.0,624.9 L609.9,630.5 L611.8,636.2 L613.6,641.8 L615.3,647.5 L617.0,653.1 L618.6,658.8 L620.2,664.5 L621.8,670.2 L623.3,675.9 L624.7,681.7 L626.1,687.4 L627.5,693.1 L628.8,698.9 L630.0,704.6 L631.2,710.4 L632.4,716.2 L633.6,722.0 L634.7,727.8 L635.7,733.6 L636.7,739.4 L637.7,745.2 L638.6,751.0 L639.5,756.8 L640.4,762.7 L641.2,768.5 L642.0,774.4 L642.8,780.2 L643.5,786.1 L644.2,792.0 L644.9,797.8 L645.5,803.7 L646.1,809.6 L646.7,815.5 L647.3,821.4 L647.8,827.3 L648.3,833.2 L648.8,839.1 L649.2,845.1 L649.7,851.0 L650.1,856.9 L650.4,862.9 L650.8,868.8 L651.2,874.7 L651.5,880.7 L651.8,886.6 L652.1,892.6 L652.3,898.5 L652.5,904.5 L652.8,910.4 L652.9,916.4 L653.1,922.3 L653.2,928.3 L653.4,934.2 L653.4,940.2 L653.5,946.2 L653.5,952.1 L653.5,958.1 L653.5,964.0 L653.4,970.0 L653.4,976.0 L653.3,981.9 L653.1,987.9 L653.0,993.8 L652.8,999.8 L652.6,1005.7 L652.4,1011.7 L652.1,1017.6 L651.8,1023.6 L651.5,1029.5 L651.1,1035.5 L650.8,1041.4 L650.4,1047.4 L649.9,1053.3 L649.5,1059.2 L649.0,1065.2 L648.5,1071.1 L647.9,1077.0 L647.3,1082.9 L646.7,1088.8 L646.1,1094.8 L645.4,1100.7 L644.7,1106.6 L644.0,1112.5 L643.2,1118.4 L642.5,1124.2 L641.6,1130.1 L640.8,1136.0 L639.9,1141.9 L639.0,1147.7 L638.0,1153.6 L637.0,1159.4 L636.0,1165.3 L634.9,1171.1 L633.9,1177.0 L632.7,1182.8 L631.6,1188.6 L630.4,1194.4 L629.1,1200.2 L627.9,1206.0 L626.6,1211.8 L625.2,1217.6 L623.9,1223.3 L622.4,1229.1 L621.0,1234.9 L619.5,1240.6 L618.0,1246.3 L616.5,1252.1 L614.9,1257.8 L613.3,1263.5 L611.6,1269.2 L609.9,1274.9 L608.2,1280.6 L606.4,1286.2 L604.6,1291.9 L602.7,1297.5 L601.0,1303.2 L599.2,1308.8 L597.3,1314.4 L595.4,1320.0 L593.4,1325.4 L591.3,1330.9 L589.1,1336.2 L586.8,1341.4 L584.4,1346.6 L581.8,1351.6 L579.1,1356.6 L576.2,1361.4 L573.2,1366.1 L569.9,1370.7 L566.5,1375.1 L562.9,1379.4 L559.0,1383.6 L554.9,1387.5 L550.6,1391.3 L546.0,1394.9 L553.7,1405.4 L558.8,1401.4 L563.7,1397.2 L568.3,1392.8 L572.7,1388.4 L576.8,1383.7 L580.7,1378.9 L584.4,1374.0 L587.9,1369.0 L591.2,1363.8 L594.4,1358.6 L597.3,1353.2 L600.1,1347.8 L602.8,1342.3 L605.3,1336.7 L607.7,1331.1 L610.0,1325.5 L612.2,1319.8 L614.4,1314.1 L616.4,1308.4 L618.4,1302.6 L620.2,1296.9 L622.0,1291.1 L623.8,1285.3 L625.5,1279.5 L627.2,1273.7 L628.8,1267.9 L630.4,1262.1 L631.9,1256.2 L633.4,1250.4 L634.9,1244.5 L636.4,1238.7 L637.8,1232.8 L639.1,1226.9 L640.5,1221.1 L641.8,1215.2 L643.0,1209.3 L644.2,1203.4 L645.4,1197.5 L646.6,1191.6 L647.7,1185.7 L648.8,1179.7 L649.8,1173.8 L650.9,1167.9 L651.8,1161.9 L652.8,1156.0 L653.7,1150.0 L654.6,1144.1 L655.5,1138.1 L656.3,1132.2 L657.1,1126.2 L657.9,1120.2 L658.6,1114.3 L659.3,1108.3 L660.0,1102.3 L660.6,1096.3 L661.2,1090.3 L661.8,1084.3 L662.3,1078.3 L662.9,1072.3 L663.3,1066.3 L663.8,1060.3 L664.2,1054.3 L664.6,1048.3 L665.0,1042.3 L665.3,1036.3 L665.6,1030.3 L665.9,1024.3 L666.2,1018.2 L666.4,1012.2 L666.6,1006.2 L666.8,1000.2 L666.9,994.2 L667.0,988.2 L667.1,982.1 L667.2,976.1 L667.2,970.1 L667.2,964.1 L667.2,958.1 L667.2,952.1 L667.1,946.0 L667.0,940.0 L667.0,934.0 L666.8,928.0 L666.7,922.0 L666.5,916.0 L666.3,910.0 L666.1,904.0 L665.9,898.0 L665.6,892.0 L665.3,886.0 L665.0,880.0 L664.7,874.0 L664.4,868.0 L664.0,862.0 L663.6,856.0 L663.2,850.0 L662.8,844.1 L662.3,838.1 L661.8,832.1 L661.3,826.1 L660.8,820.2 L660.2,814.2 L659.6,808.2 L659.0,802.3 L658.4,796.3 L657.7,790.4 L657.0,784.5 L656.2,778.5 L655.5,772.6 L654.6,766.6 L653.8,760.7 L652.9,754.8 L652.0,748.9 L651.1,743.0 L650.1,737.1 L649.0,731.2 L648.0,725.3 L646.9,719.4 L645.7,713.5 L644.5,707.7 L643.3,701.8 L642.0,695.9 L640.6,690.1 L639.3,684.2 L637.8,678.4 L636.4,672.6 L634.8,666.8 L633.3,660.9 L631.6,655.1 L630.0,649.3 L628.2,643.5 L626.5,637.8 L624.6,632.0 L622.7,626.2 L620.8,620.5 L618.8,614.7 L616.7,609.0 L614.6,603.3 L612.4,597.6 L610.1,592.0 L607.7,586.3 L605.3,580.7 L602.8,575.2 L600.3,569.6 L597.7,564.2 L595.0,558.7 L592.2,553.3 L589.4,547.9 L586.5,542.6 L583.5,537.3 L580.4,532.1 L577.3,526.9 L574.1,521.8 L570.8,516.8 L567.4,511.8 L563.9,506.9 L560.4,502.0 L556.7,497.3 L553.0,492.6Z" fill="url(#band)"/>
<polygon points="527.8,479 536.8,479 534,1418 524.6,1418" fill="url(#rod)"/>
<g stroke-linecap="butt">
<polygon points="508.6,908.4 290.1,646.0 286.3,649.2 504.2,912.1" fill="#5e3a18"/><polygon points="508.3,908.7 290.2,646.7 287.6,648.9 505.3,911.1" fill="#a06a36"/><polygon points="507.8,909.1 290.2,647.5 289.1,648.4 506.6,910.1" fill="#c99258"/>
<polygon points="505.4,911.0 246.2,657.7 242.8,661.3 501.4,915.1" fill="#5e3a18"/><polygon points="505.1,911.3 246.4,658.4 244.1,660.8 502.4,914.0" fill="#a06a36"/><polygon points="504.7,911.8 246.4,659.2 245.5,660.2 503.5,912.9" fill="#c99258"/>
<polygon points="504.0,912.3 236.3,674.4 232.9,678.2 500.2,916.5" fill="#5e3a18"/><polygon points="503.7,912.6 236.5,675.1 234.2,677.6 501.2,915.5" fill="#a06a36"/><polygon points="503.3,913.1 236.5,675.9 235.6,677.0 502.2,914.3" fill="#c99258"/>
<polygon points="515.7,904.4 371.7,635.5 367.3,637.9 510.6,907.1" fill="#5e3a18"/><polygon points="515.3,904.6 371.6,636.2 368.7,637.8 511.9,906.4" fill="#a06a36"/><polygon points="514.7,904.9 371.4,637.0 370.2,637.7 513.3,905.6" fill="#c99258"/>
<polygon points="519.3,903.0 400.5,617.8 395.9,619.8 514.0,905.2" fill="#5e3a18"/><polygon points="518.9,903.1 400.4,618.5 397.3,619.8 515.3,904.6" fill="#a06a36"/><polygon points="518.3,903.4 400.1,619.3 398.8,619.9 516.8,904.0" fill="#c99258"/>
<polygon points="522.7,902.0 429.4,607.2 424.6,608.8 517.3,903.7" fill="#5e3a18"/><polygon points="522.3,902.1 429.2,607.9 426.0,608.9 518.6,903.3" fill="#a06a36"/><polygon points="521.7,902.3 428.8,608.7 427.5,609.1 520.1,902.8" fill="#c99258"/>
<polygon points="522.3,902.1 432.4,628.9 427.6,630.5 516.8,903.9" fill="#5e3a18"/><polygon points="521.8,902.2 432.2,629.6 429.0,630.7 518.2,903.4" fill="#a06a36"/><polygon points="521.2,902.4 431.8,630.4 430.5,630.8 519.7,902.9" fill="#c99258"/>
<polygon points="498.4,919.1 247.7,780.2 245.3,784.6 495.6,924.1" fill="#5e3a18"/><polygon points="498.2,919.5 248.1,780.8 246.4,783.8 496.3,922.8" fill="#a06a36"/><polygon points="497.9,920.0 248.3,781.6 247.6,782.9 497.1,921.4" fill="#c99258"/>
<polygon points="496.8,921.7 217.8,794.0 215.8,798.6 494.5,926.9" fill="#5e3a18"/><polygon points="496.7,922.1 218.2,794.6 216.8,797.7 495.1,925.6" fill="#a06a36"/><polygon points="496.4,922.7 218.5,795.4 218.0,796.7 495.7,924.2" fill="#c99258"/>
<polygon points="496.3,922.8 208.8,801.9 206.8,806.5 494.0,928.1" fill="#5e3a18"/><polygon points="496.1,923.2 209.2,802.5 207.9,805.6 494.6,926.8" fill="#a06a36"/><polygon points="495.8,923.8 209.5,803.2 209.0,804.5 495.2,925.3" fill="#c99258"/>
<polygon points="499.5,917.6 289.5,788.3 286.9,792.5 496.5,922.4" fill="#5e3a18"/><polygon points="499.2,917.9 289.8,788.9 288.1,791.8 497.2,921.2" fill="#a06a36"/><polygon points="498.9,918.5 290.0,789.7 289.3,790.9 498.1,919.8" fill="#c99258"/>
<polygon points="497.2,921.1 262.5,808.9 260.3,813.5 494.7,926.3" fill="#5e3a18"/><polygon points="497.0,921.5 262.9,809.6 261.4,812.6 495.3,925.0" fill="#a06a36"/><polygon points="496.7,922.1 263.2,810.3 262.5,811.6 496.0,923.5" fill="#c99258"/>
<polygon points="505.9,910.5 372.2,775.7 368.6,779.3 501.9,914.6" fill="#5e3a18"/><polygon points="505.6,910.9 372.3,776.4 369.9,778.8 502.9,913.6" fill="#a06a36"/><polygon points="505.1,911.3 372.3,777.3 371.4,778.2 504.0,912.4" fill="#c99258"/>
<polygon points="502.6,913.7 377.0,813.2 373.8,817.0 499.0,918.2" fill="#5e3a18"/><polygon points="502.3,914.1 377.2,813.8 375.1,816.5 499.9,917.0" fill="#a06a36"/><polygon points="501.9,914.6 377.3,814.6 376.4,815.7 500.9,915.8" fill="#c99258"/>
<polygon points="528.1,901.1 480.8,627.2 475.8,628.0 522.4,902.1" fill="#5e3a18"/><polygon points="527.6,901.2 480.5,627.8 477.2,628.4 523.8,901.8" fill="#a06a36"/><polygon points="527.0,901.3 480.0,628.5 478.7,628.8 525.4,901.5" fill="#c99258"/>
<polygon points="531.9,900.9 509.6,601.6 504.6,602.0 526.2,901.3" fill="#5e3a18"/><polygon points="531.5,900.9 509.3,602.2 505.9,602.5 527.7,901.2" fill="#a06a36"/><polygon points="530.8,901.0 508.7,602.9 507.3,603.0 529.2,901.1" fill="#c99258"/>
<polygon points="531.7,900.9 510.5,634.3 505.5,634.7 526.0,901.3" fill="#5e3a18"/><polygon points="531.3,900.9 510.2,634.9 506.8,635.2 527.5,901.2" fill="#a06a36"/><polygon points="530.6,901.0 509.6,635.6 508.2,635.7 529.0,901.1" fill="#c99258"/>
<polygon points="527.2,901.2 487.8,699.5 482.8,700.5 521.6,902.3" fill="#5e3a18"/><polygon points="526.8,901.3 487.5,700.2 484.2,700.8 523.0,902.0" fill="#a06a36"/><polygon points="526.1,901.4 487.0,700.9 485.7,701.1 524.6,901.7" fill="#c99258"/>
<polygon points="536.9,901.2 595.8,602.3 600.8,603.3 542.5,902.3" fill="#5e3a18"/><polygon points="537.3,901.3 596.1,603.0 599.4,603.6 541.1,902.0" fill="#a06a36"/><polygon points="538.0,901.4 596.5,603.7 597.9,603.9 539.5,901.7" fill="#c99258"/>
<polygon points="536.6,901.2 587.9,630.1 592.9,631.1 542.2,902.2" fill="#5e3a18"/><polygon points="537.0,901.2 588.2,630.8 591.5,631.4 540.8,902.0" fill="#a06a36"/><polygon points="537.7,901.4 588.7,631.5 590.0,631.8 539.2,901.7" fill="#c99258"/>
<polygon points="535.8,901.1 571.0,694.6 576.0,695.4 541.5,902.0" fill="#5e3a18"/><polygon points="536.3,901.2 571.3,695.2 574.6,695.8 540.1,901.8" fill="#a06a36"/><polygon points="536.9,901.3 571.8,695.9 573.2,696.2 538.5,901.5" fill="#c99258"/>
<polygon points="543.2,902.5 651.4,611.0 656.0,612.8 548.5,904.5" fill="#5e3a18"/><polygon points="543.6,902.6 651.5,611.7 654.7,612.9 547.2,904.0" fill="#a06a36"/><polygon points="544.2,902.9 651.8,612.5 653.1,613.0 545.7,903.4" fill="#c99258"/>
<polygon points="543.9,902.7 653.4,623.9 658.0,625.7 549.2,904.8" fill="#5e3a18"/><polygon points="544.3,902.9 653.5,624.6 656.6,625.8 547.9,904.3" fill="#a06a36"/><polygon points="544.9,903.1 653.8,625.4 655.1,625.9 546.4,903.7" fill="#c99258"/>
<polygon points="547.6,904.0 684.2,635.6 688.6,637.8 552.6,906.6" fill="#5e3a18"/><polygon points="547.9,904.2 684.2,636.3 687.2,637.8 551.4,906.0" fill="#a06a36"/><polygon points="548.5,904.5 684.5,637.1 685.7,637.7 549.9,905.3" fill="#c99258"/>
<polygon points="548.3,904.4 664.4,688.0 668.8,690.4 553.4,907.1" fill="#5e3a18"/><polygon points="548.7,904.6 664.5,688.7 667.4,690.3 552.1,906.4" fill="#a06a36"/><polygon points="549.3,904.9 664.7,689.5 665.9,690.2 550.7,905.6" fill="#c99258"/>
<polygon points="554.5,907.8 764.7,642.1 768.7,645.1 559.0,911.4" fill="#5e3a18"/><polygon points="554.9,908.1 764.7,642.8 767.3,644.8 557.9,910.5" fill="#a06a36"/><polygon points="555.4,908.5 764.7,643.6 765.8,644.4 556.6,909.5" fill="#c99258"/>
<polygon points="557.8,910.3 809.6,650.8 813.2,654.2 561.9,914.2" fill="#5e3a18"/><polygon points="558.1,910.6 809.5,651.5 811.9,653.8 560.9,913.3" fill="#a06a36"/><polygon points="558.6,911.0 809.5,652.3 810.5,653.3 559.7,912.1" fill="#c99258"/>
<polygon points="559.2,911.5 820.6,666.6 824.0,670.2 563.1,915.7" fill="#5e3a18"/><polygon points="559.5,911.9 820.4,667.3 822.7,669.7 562.1,914.7" fill="#a06a36"/><polygon points="559.9,912.3 820.4,668.1 821.3,669.1 561.0,913.5" fill="#c99258"/>
<polygon points="561.9,914.3 730.5,784.4 733.5,788.4 565.4,918.8" fill="#5e3a18"/><polygon points="562.2,914.6 730.2,785.1 732.3,787.8 564.5,917.7" fill="#a06a36"/><polygon points="562.6,915.1 730.1,785.9 731.0,787.0 563.5,916.4" fill="#c99258"/>
<polygon points="565.4,918.8 795.3,789.2 797.7,793.6 568.2,923.8" fill="#5e3a18"/><polygon points="565.6,919.2 794.9,789.9 796.6,792.8 567.5,922.5" fill="#a06a36"/><polygon points="565.9,919.8 794.7,790.6 795.4,791.9 566.7,921.2" fill="#c99258"/>
<polygon points="566.3,920.2 781.5,810.0 783.7,814.4 568.9,925.2" fill="#5e3a18"/><polygon points="566.5,920.6 781.1,810.6 782.6,813.6 568.2,924.0" fill="#a06a36"/><polygon points="566.8,921.1 780.8,811.4 781.5,812.6 567.5,922.6" fill="#c99258"/>
<polygon points="567.0,921.5 838.0,795.0 840.2,799.6 569.4,926.6" fill="#5e3a18"/><polygon points="567.2,921.9 837.7,795.6 839.1,798.7 568.8,925.3" fill="#a06a36"/><polygon points="567.5,922.4 837.4,796.4 837.9,797.7 568.2,923.9" fill="#c99258"/>
<polygon points="567.6,922.5 854.0,799.0 856.0,803.6 569.8,927.7" fill="#5e3a18"/><polygon points="567.8,922.9 853.6,799.6 854.9,802.7 569.3,926.4" fill="#a06a36"/><polygon points="568.0,923.5 853.3,800.4 853.8,801.6 568.6,925.0" fill="#c99258"/>
<polygon points="567.8,923.0 849.0,805.9 851.0,810.5 570.0,928.2" fill="#5e3a18"/><polygon points="568.0,923.4 848.6,806.5 849.9,809.6 569.5,926.9" fill="#a06a36"/><polygon points="568.2,924.0 848.3,807.2 848.8,808.5 568.8,925.4" fill="#c99258"/>
<polygon points="564.6,917.6 728.7,817.0 731.3,821.2 567.6,922.5" fill="#5e3a18"/><polygon points="564.8,918.0 728.4,817.6 730.1,820.5 566.8,921.2" fill="#a06a36"/><polygon points="565.1,918.5 728.2,818.4 728.9,819.6 566.0,919.9" fill="#c99258"/>
<polygon points="493.7,952.9 206.3,1065.9 208.1,1070.5 495.8,958.2" fill="#5e3a18"/><polygon points="493.9,953.3 207.0,1066.0 208.2,1069.1 495.3,956.9" fill="#a06a36"/><polygon points="494.1,953.9 207.8,1066.3 208.3,1067.6 494.7,955.4" fill="#c99258"/>
<polygon points="493.9,953.5 202.3,1072.8 204.1,1077.4 496.0,958.7" fill="#5e3a18"/><polygon points="494.1,953.9 203.0,1072.9 204.2,1076.0 495.5,957.4" fill="#a06a36"/><polygon points="494.3,954.5 203.7,1073.2 204.3,1074.5 494.9,955.9" fill="#c99258"/>
<polygon points="494.3,954.7 220.0,1077.8 222.0,1082.4 496.6,959.9" fill="#5e3a18"/><polygon points="494.5,955.1 220.7,1077.9 222.1,1081.0 496.1,958.6" fill="#a06a36"/><polygon points="494.8,955.7 221.5,1078.2 222.0,1079.5 495.4,957.2" fill="#c99258"/>
<polygon points="494.1,954.1 234.0,1065.9 236.0,1070.5 496.4,959.4" fill="#5e3a18"/><polygon points="494.3,954.5 234.7,1066.0 236.0,1069.1 495.8,958.1" fill="#a06a36"/><polygon points="494.5,955.1 235.5,1066.3 236.0,1067.6 495.2,956.6" fill="#c99258"/>
<polygon points="495.0,956.6 260.6,1075.9 262.8,1080.3 497.6,961.6" fill="#5e3a18"/><polygon points="495.2,956.9 261.3,1075.9 262.8,1078.9 497.0,960.4" fill="#a06a36"/><polygon points="495.5,957.5 262.1,1076.2 262.7,1077.4 496.2,958.9" fill="#c99258"/>
<polygon points="495.3,957.1 281.3,1070.0 283.7,1074.4 497.9,962.1" fill="#5e3a18"/><polygon points="495.5,957.5 282.0,1070.0 283.6,1073.0 497.3,960.9" fill="#a06a36"/><polygon points="495.8,958.1 282.8,1070.3 283.5,1071.5 496.5,959.5" fill="#c99258"/>
<polygon points="496.5,959.7 334.7,1061.1 337.3,1065.3 499.6,964.6" fill="#5e3a18"/><polygon points="496.8,960.1 335.4,1061.1 337.2,1063.9 498.8,963.4" fill="#a06a36"/><polygon points="497.1,960.7 336.2,1061.2 336.9,1062.4 498.0,962.0" fill="#c99258"/>
<polygon points="497.5,961.5 333.6,1076.0 336.4,1080.2 500.8,966.2" fill="#5e3a18"/><polygon points="497.8,961.9 334.3,1076.0 336.2,1078.8 500.0,965.0" fill="#a06a36"/><polygon points="498.2,962.4 335.1,1076.1 335.9,1077.3 499.1,963.7" fill="#c99258"/>
<polygon points="501.3,966.8 403.5,1061.8 406.9,1065.4 505.2,970.9" fill="#5e3a18"/><polygon points="501.6,967.1 404.2,1061.7 406.5,1064.1 504.2,969.8" fill="#a06a36"/><polygon points="502.0,967.5 405.0,1061.7 406.0,1062.7 503.1,968.7" fill="#c99258"/>
<polygon points="570.0,953.8 860.4,1075.8 858.4,1080.4 567.8,959.1" fill="#5e3a18"/><polygon points="569.8,954.2 859.7,1075.9 858.4,1079.0 568.3,957.8" fill="#a06a36"/><polygon points="569.6,954.8 858.9,1076.2 858.4,1077.5 569.0,956.3" fill="#c99258"/>
<polygon points="569.7,954.6 852.4,1079.8 850.4,1084.4 567.4,959.8" fill="#5e3a18"/><polygon points="569.6,955.0 851.7,1079.9 850.3,1083.0 568.0,958.5" fill="#a06a36"/><polygon points="569.3,955.5 850.9,1080.2 850.4,1081.5 568.7,957.0" fill="#c99258"/>
<polygon points="569.0,956.4 822.8,1083.8 820.6,1088.2 566.5,961.5" fill="#5e3a18"/><polygon points="568.8,956.7 822.1,1083.8 820.6,1086.8 567.1,960.2" fill="#a06a36"/><polygon points="568.6,957.3 821.3,1084.1 820.7,1085.3 567.8,958.8" fill="#c99258"/>
<polygon points="567.9,958.9 773.3,1080.8 770.7,1085.2 565.0,963.8" fill="#5e3a18"/><polygon points="567.7,959.3 772.6,1080.9 770.8,1083.8 565.7,962.6" fill="#a06a36"/><polygon points="567.3,959.8 771.8,1081.1 771.0,1082.3 566.5,961.2" fill="#c99258"/>
<polygon points="565.7,962.8 701.2,1065.2 698.2,1069.2 562.2,967.3" fill="#5e3a18"/><polygon points="565.4,963.1 700.5,1065.1 698.5,1067.8 563.1,966.2" fill="#a06a36"/><polygon points="565.0,963.6 699.7,1065.2 698.8,1066.4 564.1,964.9" fill="#c99258"/>
<polygon points="563.1,966.3 694.5,1090.2 691.1,1093.8 559.2,970.5" fill="#5e3a18"/><polygon points="562.8,966.6 693.8,1090.0 691.5,1092.5 560.2,969.4" fill="#a06a36"/><polygon points="562.4,967.1 693.0,1090.0 692.0,1091.1 561.3,968.3" fill="#c99258"/>
<polygon points="502.3,967.9 246.7,1235.4 250.3,1238.8 506.4,971.9" fill="#5e3a18"/><polygon points="502.6,968.2 247.4,1235.2 249.8,1237.5 505.4,970.9" fill="#a06a36"/><polygon points="503.1,968.7 248.2,1235.2 249.2,1236.1 504.2,969.8" fill="#c99258"/>
<polygon points="504.1,969.8 273.4,1245.4 277.2,1248.6 508.5,973.5" fill="#5e3a18"/><polygon points="504.4,970.1 274.1,1245.2 276.6,1247.3 507.4,972.6" fill="#a06a36"/><polygon points="504.9,970.5 274.9,1245.1 276.0,1246.0 506.2,971.5" fill="#c99258"/>
<polygon points="503.6,969.3 293.2,1211.7 297.0,1214.9 507.9,973.0" fill="#5e3a18"/><polygon points="503.9,969.6 293.9,1211.5 296.4,1213.7 506.8,972.1" fill="#a06a36"/><polygon points="504.4,970.0 294.7,1211.4 295.8,1212.3 505.6,971.1" fill="#c99258"/>
<polygon points="509.0,973.8 343.6,1250.7 347.8,1253.3 513.9,976.8" fill="#5e3a18"/><polygon points="509.4,974.1 344.2,1250.4 347.1,1252.1 512.7,976.0" fill="#a06a36"/><polygon points="509.9,974.4 345.0,1250.2 346.2,1250.9 511.3,975.2" fill="#c99258"/>
<polygon points="507.6,972.8 357.4,1201.0 361.6,1203.8 512.3,976.0" fill="#5e3a18"/><polygon points="508.0,973.1 358.1,1200.7 360.9,1202.6 511.2,975.2" fill="#a06a36"/><polygon points="508.5,973.4 358.9,1200.5 360.0,1201.3 509.8,974.3" fill="#c99258"/>
<polygon points="514.9,977.3 402.9,1267.0 407.5,1268.8 520.2,979.3" fill="#5e3a18"/><polygon points="515.3,977.4 403.4,1266.6 406.6,1267.8 518.9,978.8" fill="#a06a36"/><polygon points="515.9,977.7 404.2,1266.2 405.5,1266.7 517.4,978.2" fill="#c99258"/>
<polygon points="516.7,978.1 417.6,1279.0 422.4,1280.6 522.2,979.9" fill="#5e3a18"/><polygon points="517.2,978.2 418.2,1278.6 421.4,1279.6 520.8,979.4" fill="#a06a36"/><polygon points="517.8,978.4 418.9,1278.2 420.2,1278.6 519.3,978.9" fill="#c99258"/>
<polygon points="516.4,978.0 443.4,1193.7 448.2,1195.3 521.8,979.8" fill="#5e3a18"/><polygon points="516.8,978.1 444.0,1193.3 447.2,1194.3 520.5,979.3" fill="#a06a36"/><polygon points="517.4,978.3 444.7,1192.9 446.0,1193.3 519.0,978.8" fill="#c99258"/>
<polygon points="525.6,980.6 498.6,1289.5 503.6,1289.9 531.3,981.1" fill="#5e3a18"/><polygon points="526.1,980.6 499.0,1288.9 502.4,1289.2 529.9,981.0" fill="#a06a36"/><polygon points="526.7,980.7 499.7,1288.4 501.1,1288.5 528.3,980.8" fill="#c99258"/>
<polygon points="542.2,979.8 598.8,1283.2 593.8,1284.2 536.6,980.8" fill="#5e3a18"/><polygon points="541.7,979.9 598.3,1282.7 595.0,1283.3 538.0,980.6" fill="#a06a36"/><polygon points="541.1,980.0 597.6,1282.2 596.2,1282.5 539.5,980.3" fill="#c99258"/>
<polygon points="537.5,980.7 556.2,1261.7 551.2,1262.1 531.9,981.1" fill="#5e3a18"/><polygon points="537.1,980.7 555.8,1261.2 552.4,1261.4 533.3,981.0" fill="#a06a36"/><polygon points="536.5,980.8 555.2,1260.6 553.8,1260.7 534.9,980.9" fill="#c99258"/>
<polygon points="536.1,980.9 544.3,1251.9 539.3,1252.1 530.4,981.1" fill="#5e3a18"/><polygon points="535.7,980.9 543.9,1251.3 540.5,1251.4 531.8,981.0" fill="#a06a36"/><polygon points="535.0,980.9 543.3,1250.8 541.9,1250.8 533.4,981.0" fill="#c99258"/>
<polygon points="549.9,976.9 662.1,1250.0 657.5,1252.0 544.6,979.1" fill="#5e3a18"/><polygon points="549.5,977.1 661.5,1249.6 658.4,1250.9 545.9,978.5" fill="#a06a36"/><polygon points="548.9,977.3 660.8,1249.3 659.5,1249.8 547.4,977.9" fill="#c99258"/>
<polygon points="550.9,976.4 676.9,1259.0 672.3,1261.0 545.7,978.7" fill="#5e3a18"/><polygon points="550.5,976.5 676.3,1258.6 673.2,1260.0 547.0,978.1" fill="#a06a36"/><polygon points="549.9,976.8 675.5,1258.3 674.2,1258.8 548.5,977.4" fill="#c99258"/>
<polygon points="548.7,977.4 660.1,1274.9 655.5,1276.7 543.4,979.4" fill="#5e3a18"/><polygon points="548.3,977.6 659.6,1274.5 656.4,1275.7 544.7,978.9" fill="#a06a36"/><polygon points="547.7,977.8 658.8,1274.1 657.5,1274.6 546.2,978.4" fill="#c99258"/>
<polygon points="564.2,965.0 828.8,1193.6 825.6,1197.4 560.4,969.3" fill="#5e3a18"/><polygon points="563.9,965.3 828.1,1193.5 825.9,1196.1 561.4,968.2" fill="#a06a36"/><polygon points="563.4,965.8 827.3,1193.5 826.4,1194.6 562.4,967.0" fill="#c99258"/>
<polygon points="563.7,965.6 837.8,1212.4 834.4,1216.2 559.8,969.9" fill="#5e3a18"/><polygon points="563.4,965.9 837.1,1212.3 834.8,1214.8 560.8,968.8" fill="#a06a36"/><polygon points="562.9,966.4 836.2,1212.3 835.3,1213.4 561.9,967.6" fill="#c99258"/>
<polygon points="561.7,968.0 810.2,1229.5 806.6,1232.9 557.5,971.9" fill="#5e3a18"/><polygon points="561.3,968.3 809.5,1229.3 807.1,1231.6 558.6,970.9" fill="#a06a36"/><polygon points="560.9,968.7 808.7,1229.3 807.7,1230.2 559.7,969.8" fill="#c99258"/>
<polygon points="557.7,971.7 750.9,1239.6 746.9,1242.6 553.1,975.1" fill="#5e3a18"/><polygon points="557.4,972.0 750.3,1239.4 747.5,1241.3 554.3,974.3" fill="#a06a36"/><polygon points="556.9,972.4 749.5,1239.2 748.3,1240.0 555.6,973.3" fill="#c99258"/>
<polygon points="557.2,972.2 712.3,1195.1 708.1,1197.9 552.5,975.4" fill="#5e3a18"/><polygon points="556.9,972.4 711.6,1194.8 708.8,1196.7 553.7,974.6" fill="#a06a36"/><polygon points="556.3,972.8 710.8,1194.6 709.6,1195.4 555.0,973.7" fill="#c99258"/>
</g>
<g>
<polygon points="568.9,956.9 643.5,998.9 640.2,1004.8 565.1,963.9" fill="#5e3a18"/><polygon points="568.6,957.4 642.7,999.0 640.5,1003.0 566.0,962.1" fill="#a06a36"/><polygon points="568.2,958.2 641.8,999.4 640.9,1001.1 567.1,960.2" fill="#c99258"/>
<polygon points="567.9,959.1 635.0,1002.2 631.0,1008.3 563.6,965.8" fill="#5e3a18"/><polygon points="567.6,959.6 634.1,1002.3 631.5,1006.5 564.7,964.2" fill="#a06a36"/><polygon points="567.1,960.4 633.2,1002.7 632.1,1004.4 565.9,962.3" fill="#c99258"/>
<polygon points="561.0,968.8 596.3,1010.9 591.0,1015.4 555.0,974.0" fill="#5e3a18"/><polygon points="560.6,969.2 595.5,1010.7 592.0,1013.8 556.5,972.7" fill="#a06a36"/><polygon points="559.9,969.8 594.6,1010.8 593.1,1012.1 558.2,971.2" fill="#c99258"/>
<polygon points="556.4,972.9 619.4,1076.1 613.6,1079.6 549.6,977.1" fill="#5e3a18"/><polygon points="555.9,973.3 618.6,1075.8 614.8,1078.2 551.3,976.1" fill="#a06a36"/><polygon points="555.1,973.7 617.7,1075.7 616.0,1076.7 553.2,974.9" fill="#c99258"/>
<polygon points="553.7,974.9 587.9,1043.5 581.8,1046.6 546.5,978.5" fill="#5e3a18"/><polygon points="553.1,975.1 587.2,1043.2 583.0,1045.3 548.3,977.6" fill="#a06a36"/><polygon points="552.3,975.5 586.2,1043.1 584.5,1043.9 550.3,976.6" fill="#c99258"/>
<polygon points="547.9,977.9 581.9,1086.4 575.3,1088.5 540.3,980.3" fill="#5e3a18"/><polygon points="547.4,978.1 581.2,1086.0 576.8,1087.4 542.2,979.7" fill="#a06a36"/><polygon points="546.5,978.4 580.3,1085.6 578.5,1086.2 544.4,979.0" fill="#c99258"/>
<polygon points="545.3,978.9 557.6,1034.1 551.7,1035.6 537.5,980.8" fill="#5e3a18"/><polygon points="544.7,979.1 557.0,1033.7 553.0,1034.6 539.4,980.4" fill="#a06a36"/><polygon points="543.8,979.3 556.2,1033.2 554.5,1033.6 541.6,979.8" fill="#c99258"/>
<polygon points="540.0,980.4 550.7,1090.2 543.4,1090.9 532.0,981.2" fill="#5e3a18"/><polygon points="539.4,980.5 550.0,1089.6 545.2,1090.1 534.0,981.0" fill="#a06a36"/><polygon points="538.5,980.6 549.2,1089.1 547.1,1089.3 536.2,980.8" fill="#c99258"/>
<polygon points="526.0,980.7 521.6,1076.8 528.7,1077.1 534.0,981.2" fill="#5e3a18"/><polygon points="526.6,980.8 522.2,1076.2 526.9,1076.4 532.0,981.0" fill="#a06a36"/><polygon points="527.5,980.8 523.0,1075.6 525.0,1075.7 529.7,980.9" fill="#c99258"/>
<polygon points="523.0,980.2 512.3,1068.4 519.5,1069.3 531.0,981.2" fill="#5e3a18"/><polygon points="523.6,980.3 512.9,1067.8 517.8,1068.4 529.0,980.9" fill="#a06a36"/><polygon points="524.5,980.4 513.8,1067.3 515.8,1067.6 526.8,980.7" fill="#c99258"/>
<polygon points="520.6,979.6 511.8,1028.5 518.8,1029.9 528.5,981.0" fill="#5e3a18"/><polygon points="521.2,979.7 512.4,1028.0 517.1,1028.9 526.5,980.7" fill="#a06a36"/><polygon points="522.1,979.8 513.3,1027.6 515.3,1028.0 524.3,980.3" fill="#c99258"/>
<polygon points="518.0,978.7 493.6,1075.1 500.0,1076.7 525.8,980.7" fill="#5e3a18"/><polygon points="518.6,978.8 494.3,1074.6 498.5,1075.7 523.8,980.2" fill="#a06a36"/><polygon points="519.5,979.1 495.1,1074.2 496.9,1074.7 521.7,979.6" fill="#c99258"/>
<polygon points="512.6,976.2 477.0,1060.9 483.1,1063.5 519.9,979.3" fill="#5e3a18"/><polygon points="513.1,976.4 477.7,1060.5 481.8,1062.3 518.1,978.6" fill="#a06a36"/><polygon points="514.0,976.8 478.7,1060.3 480.3,1061.0 516.0,977.7" fill="#c99258"/>
<polygon points="509.9,974.6 478.6,1036.1 484.1,1038.9 517.0,978.3" fill="#5e3a18"/><polygon points="510.4,974.8 479.3,1035.8 483.0,1037.7 515.2,977.3" fill="#a06a36"/><polygon points="511.2,975.3 480.2,1035.6 481.7,1036.3 513.2,976.3" fill="#c99258"/>
<polygon points="504.2,970.0 464.8,1021.2 470.2,1025.4 510.5,975.0" fill="#5e3a18"/><polygon points="504.7,970.4 465.6,1021.0 469.3,1023.9 508.9,973.7" fill="#a06a36"/><polygon points="505.4,971.0 466.6,1021.0 468.1,1022.2 507.1,972.3" fill="#c99258"/>
<polygon points="497.6,961.9 415.7,1024.8 419.3,1029.7 502.5,968.3" fill="#5e3a18"/><polygon points="498.0,962.4 416.4,1024.8 418.9,1028.1 501.3,966.7" fill="#a06a36"/><polygon points="498.6,963.1 417.3,1025.0 418.3,1026.4 499.9,964.9" fill="#c99258"/>
<polygon points="507.8,908.9 425.3,821.0 420.8,825.1 501.9,914.3" fill="#5e3a18"/><polygon points="507.3,909.3 425.3,821.8 422.3,824.5 503.4,913.0" fill="#a06a36"/><polygon points="506.7,909.9 425.2,822.7 424.0,823.8 505.0,911.5" fill="#c99258"/>
<polygon points="513.4,905.3 485.4,864.1 480.2,867.5 506.7,909.7" fill="#5e3a18"/><polygon points="512.9,905.7 485.3,864.9 481.8,867.2 508.4,908.6" fill="#a06a36"/><polygon points="512.2,906.2 485.1,865.8 483.6,866.7 510.3,907.4" fill="#c99258"/>
<polygon points="530.4,900.8 519.1,825.8 512.9,826.7 522.5,901.9" fill="#5e3a18"/><polygon points="529.8,900.9 518.7,826.5 514.6,827.1 524.5,901.7" fill="#a06a36"/><polygon points="528.9,901.0 518.1,827.2 516.4,827.4 526.7,901.3" fill="#c99258"/>
<polygon points="528.4,901.0 529.9,819.0 536.4,819.1 536.4,901.0" fill="#5e3a18"/><polygon points="529.0,901.0 530.4,819.6 534.7,819.7 534.4,901.0" fill="#a06a36"/><polygon points="529.9,901.0 531.1,820.3 532.9,820.3 532.1,901.0" fill="#c99258"/>
<polygon points="531.0,900.8 536.1,846.7 542.2,847.1 539.0,901.4" fill="#5e3a18"/><polygon points="531.6,900.9 536.5,847.3 540.6,847.6 537.0,901.3" fill="#a06a36"/><polygon points="532.5,900.9 537.2,848.0 538.9,848.1 534.8,901.1" fill="#c99258"/>
<polygon points="533.5,900.8 549.1,795.5 555.0,796.3 541.4,901.9" fill="#5e3a18"/><polygon points="534.1,900.9 549.5,796.2 553.5,796.7 539.5,901.7" fill="#a06a36"/><polygon points="535.0,901.0 550.1,796.9 551.7,797.1 537.2,901.3" fill="#c99258"/>
<polygon points="538.9,901.4 560.2,828.2 566.2,829.8 546.6,903.5" fill="#5e3a18"/><polygon points="539.5,901.6 560.5,828.9 564.6,830.0 544.7,903.0" fill="#a06a36"/><polygon points="540.4,901.8 561.0,829.6 562.7,830.1 542.5,902.4" fill="#c99258"/>
<polygon points="545.1,903.0 579.7,829.8 585.3,832.4 552.3,906.3" fill="#5e3a18"/><polygon points="545.6,903.2 579.9,830.6 583.6,832.3 550.5,905.5" fill="#a06a36"/><polygon points="546.4,903.6 580.2,831.4 581.8,832.1 548.5,904.5" fill="#c99258"/>
<polygon points="551.6,905.9 615.5,815.7 620.8,819.4 558.2,910.5" fill="#5e3a18"/><polygon points="552.1,906.3 615.5,816.5 619.1,819.0 556.5,909.3" fill="#a06a36"/><polygon points="552.9,906.8 615.8,817.4 617.3,818.4 554.7,908.1" fill="#c99258"/>
<polygon points="554.9,907.9 599.2,857.3 603.8,861.2 561.0,913.1" fill="#5e3a18"/><polygon points="555.3,908.3 599.2,858.1 602.3,860.7 559.4,911.8" fill="#a06a36"/><polygon points="556.0,908.9 599.3,859.0 600.6,860.1 557.7,910.4" fill="#c99258"/>
<polygon points="559.6,911.8 647.2,836.2 652.0,841.6 564.8,917.8" fill="#5e3a18"/><polygon points="560.0,912.2 647.1,837.0 650.3,840.7 563.5,916.3" fill="#a06a36"/><polygon points="560.6,912.9 647.2,838.0 648.5,839.5 562.0,914.6" fill="#c99258"/>
<polygon points="562.3,914.6 609.3,882.1 613.2,887.7 567.0,921.2" fill="#5e3a18"/><polygon points="562.7,915.1 609.1,882.9 611.8,886.7 565.8,919.5" fill="#a06a36"/><polygon points="563.2,915.9 609.0,883.9 610.2,885.5 564.5,917.7" fill="#c99258"/>
</g>
<polygon points="515.6,977.8 428.8,1254.7 437.0,1257.3 524.4,980.5" fill="#5e3a18"/><polygon points="516.3,978.0 429.6,1254.3 435.1,1256.1 522.2,979.8" fill="#a06a36"/><polygon points="517.3,978.3 430.7,1254.1 433.0,1254.8 519.7,979.1" fill="#c99258"/>
<polygon points="470.1,935.5 216.1,928.0 215.9,934.0 469.9,941.5" fill="#5e3a18"/><polygon points="470.1,936.0 216.7,928.5 216.6,932.5 470.0,940.0" fill="#a06a36"/><polygon points="470.1,936.6 217.3,929.2 217.2,930.9 470.0,938.3" fill="#c99258"/>
<polygon points="470.0,932.5 158.5,930.5 158.5,933.5 470.0,935.5" fill="#5e3a18"/><polygon points="470.0,932.7 159.1,930.7 159.1,932.8 470.0,934.7" fill="#a06a36"/><polygon points="470.0,932.9 159.7,930.9 159.7,932.1 470.0,934.1" fill="#c99258"/>
<polygon points="470.0,937.0 134.9,937.3 134.9,942.3 470.0,942.0" fill="#5e3a18"/><polygon points="470.0,937.4 135.5,937.7 135.5,941.0 470.0,940.7" fill="#a06a36"/><polygon points="470.0,938.0 136.1,938.2 136.1,939.6 470.0,939.4" fill="#c99258"/>
<polygon points="470.0,933.5 125.7,931.9 125.7,937.9 470.0,939.5" fill="#5e3a18"/><polygon points="470.0,934.0 126.3,932.4 126.3,936.4 470.0,938.0" fill="#a06a36"/><polygon points="470.0,934.6 126.9,933.0 126.9,934.7 470.0,936.3" fill="#c99258"/>
<circle cx="281.6" cy="934.9" r="3.4" fill="#c89458" stroke="#5a3515" stroke-width="1.4"/>
<circle cx="366.8" cy="942.3" r="3" fill="#c89458" stroke="#5a3515" stroke-width="1.4"/>
<polygon points="595.0,937.3 889.0,937.6 889.0,941.0 595.0,940.7" fill="#5e3a18"/><polygon points="595.0,937.5 888.4,937.8 888.4,940.2 595.0,939.9" fill="#a06a36"/><polygon points="595.0,937.8 887.8,938.1 887.8,939.3 595.0,939.0" fill="#c99258"/>
<polygon points="595.0,943.0 879.0,941.8 879.0,946.8 595.0,948.0" fill="#5e3a18"/><polygon points="595.0,943.4 878.4,942.2 878.4,945.6 595.0,946.7" fill="#a06a36"/><polygon points="595.0,944.0 877.8,942.8 877.8,944.2 595.0,945.4" fill="#c99258"/>
<polygon points="595.0,945.8 791.0,946.5 791.0,949.9 595.0,949.2" fill="#5e3a18"/><polygon points="595.0,946.0 790.4,946.7 790.4,949.1 595.0,948.4" fill="#a06a36"/><polygon points="595.0,946.3 789.8,947.0 789.8,948.2 595.0,947.5" fill="#c99258"/>
<polygon points="595.0,938.7 935.7,939.6 935.7,946.2 595.0,945.3" fill="#5e3a18"/><polygon points="595.0,939.2 935.1,940.1 935.1,944.5 595.0,943.6" fill="#a06a36"/><polygon points="595.0,940.0 934.5,940.9 934.5,942.7 595.0,941.8" fill="#c99258"/>
<circle cx="821.7" cy="941.3" r="3.4" fill="#c89458" stroke="#5a3515" stroke-width="1.4"/>
<circle cx="752.3" cy="946.3" r="3.4" fill="#c89458" stroke="#5a3515" stroke-width="1.4"/>
<g transform="translate(469.7 813.3) rotate(-111.0)" opacity="0.75"><path d="M0,-4.1 C11.1,-9.4 31.0,-6.8 44.3,0 C31.0,6.8 11.1,9.4 0,4.1 Z" fill="#f3f3f3" fill-opacity="0.88" stroke="#8a8a8a" stroke-width="1.1"/><path d="M4.4,-6.0 C13.3,-8.6 31.0,-6.0 43.0,-0.5" fill="none" stroke="#555" stroke-width="1.2" opacity="0.7"/></g>
<g transform="translate(566.7 810.7) rotate(-77.3)" opacity="0.75"><path d="M0,-4.1 C10.6,-9.4 29.7,-6.8 42.4,0 C29.7,6.8 10.6,9.4 0,4.1 Z" fill="#f3f3f3" fill-opacity="0.88" stroke="#8a8a8a" stroke-width="1.1"/><path d="M4.2,-6.0 C12.7,-8.6 29.7,-6.0 41.2,-0.5" fill="none" stroke="#555" stroke-width="1.2" opacity="0.7"/></g>
<polygon points="480.0,847.4 446.0,808.3 434.0,818.7 468.0,857.8" fill="#7d4f22"/><polygon points="479.1,848.2 445.5,809.5 437.4,816.6 471.0,855.2" fill="#a87136"/><polygon points="477.7,849.3 444.5,811.2 441.1,814.1 474.4,852.3" fill="#c08a4a"/><ellipse cx="440.0" cy="813.5" rx="2.2" ry="8.0" fill="#4a3018" transform="rotate(-131.0 440.0 813.5)"/>
<g transform="translate(440.0 813.5) rotate(-124.5)" opacity="1.00"><path d="M0,-6.1 C15.0,-13.8 42.0,-9.9 60.1,0 C42.0,9.9 15.0,13.8 0,6.1 Z" fill="#f3f3f3" fill-opacity="0.88" stroke="#8a8a8a" stroke-width="1.1"/><rect x="7.2" y="-2.6" width="25.2" height="5.2" fill="#d9a13f"/><rect x="8.4" y="-0.8" width="22.8" height="1.6" fill="#f6dc9a"/><rect x="0" y="-5.5" width="6.0" height="11.0" fill="#6b6b6b" opacity="0.75"/><path d="M6.0,-8.8 C18.0,-12.6 42.0,-8.8 58.3,-0.5" fill="none" stroke="#555" stroke-width="1.2" opacity="0.7"/></g>
<polygon points="518.2,857.8 504.5,806.8 488.1,811.2 501.8,862.2" fill="#7d4f22"/><polygon points="516.9,858.1 503.4,807.7 492.4,810.7 505.9,861.1" fill="#a87136"/><polygon points="515.1,858.6 501.7,808.8 497.1,810.0 510.5,859.9" fill="#c08a4a"/><ellipse cx="496.3" cy="809.0" rx="2.2" ry="8.5" fill="#4a3018" transform="rotate(-105.0 496.3 809.0)"/>
<g transform="translate(496.3 809.0) rotate(-101.4)" opacity="1.00"><path d="M0,-6.1 C13.5,-13.8 37.8,-9.9 54.1,0 C37.8,9.9 13.5,13.8 0,6.1 Z" fill="#f3f3f3" fill-opacity="0.88" stroke="#8a8a8a" stroke-width="1.1"/><rect x="6.5" y="-2.6" width="22.7" height="5.2" fill="#d9a13f"/><rect x="7.6" y="-0.8" width="20.5" height="1.6" fill="#f6dc9a"/><rect x="0" y="-5.5" width="5.4" height="11.0" fill="#6b6b6b" opacity="0.75"/><path d="M5.4,-8.8 C16.2,-12.6 37.8,-8.8 52.4,-0.5" fill="none" stroke="#555" stroke-width="1.2" opacity="0.7"/></g>
<polygon points="562.4,843.4 576.8,801.4 592.0,806.6 577.6,848.6" fill="#7d4f22"/><polygon points="563.6,843.8 577.8,802.4 588.0,805.9 573.8,847.3" fill="#a87136"/><polygon points="565.3,844.4 579.3,803.5 583.6,805.0 569.5,845.8" fill="#c08a4a"/><ellipse cx="584.4" cy="804.0" rx="2.2" ry="8.0" fill="#4a3018" transform="rotate(-71.1 584.4 804.0)"/>
<g transform="translate(584.4 804.0) rotate(-64.3)" opacity="1.00"><path d="M0,-6.1 C13.7,-13.8 38.4,-9.9 54.9,0 C38.4,9.9 13.7,13.8 0,6.1 Z" fill="#f3f3f3" fill-opacity="0.88" stroke="#8a8a8a" stroke-width="1.1"/><rect x="6.6" y="-2.6" width="23.1" height="5.2" fill="#d9a13f"/><rect x="7.7" y="-0.8" width="20.9" height="1.6" fill="#f6dc9a"/><rect x="0" y="-5.5" width="5.5" height="11.0" fill="#6b6b6b" opacity="0.75"/><path d="M5.5,-8.8 C16.5,-12.6 38.4,-8.8 53.3,-0.5" fill="none" stroke="#555" stroke-width="1.2" opacity="0.7"/></g>
<polygon points="585.4,841.5 611.4,803.5 624.6,812.5 598.6,850.5" fill="#7d4f22"/><polygon points="586.4,842.2 612.1,804.7 621.0,810.8 595.3,848.3" fill="#a87136"/><polygon points="587.9,843.2 613.2,806.2 616.9,808.7 591.6,845.7" fill="#c08a4a"/><ellipse cx="618.0" cy="808.0" rx="2.2" ry="8.0" fill="#4a3018" transform="rotate(-55.6 618.0 808.0)"/>
<g transform="translate(618.0 808.0) rotate(-51.6)" opacity="1.00"><path d="M0,-6.1 C13.6,-13.8 38.1,-9.9 54.4,0 C38.1,9.9 13.6,13.8 0,6.1 Z" fill="#f3f3f3" fill-opacity="0.88" stroke="#8a8a8a" stroke-width="1.1"/><rect x="6.5" y="-2.6" width="22.8" height="5.2" fill="#d9a13f"/><rect x="7.6" y="-0.8" width="20.7" height="1.6" fill="#f6dc9a"/><rect x="0" y="-5.5" width="5.4" height="11.0" fill="#6b6b6b" opacity="0.75"/><path d="M5.4,-8.8 C16.3,-12.6 38.1,-8.8 52.7,-0.5" fill="none" stroke="#555" stroke-width="1.2" opacity="0.7"/></g>
<polygon points="459.5,1020.0 435.1,1065.6 450.1,1073.6 474.5,1028.0" fill="#7d4f22"/><polygon points="460.7,1020.6 436.5,1065.7 446.6,1071.1 470.7,1026.0" fill="#a87136"/><polygon points="462.4,1021.5 438.5,1066.1 442.7,1068.3 466.6,1023.8" fill="#c08a4a"/><ellipse cx="442.6" cy="1069.6" rx="2.2" ry="8.5" fill="#4a3018" transform="rotate(118.2 442.6 1069.6)"/>
<g transform="translate(442.6 1069.6) rotate(116.6)" opacity="0.85"><path d="M0,-6.1 C14.4,-13.8 40.2,-9.9 57.5,0 C40.2,9.9 14.4,13.8 0,6.1 Z" fill="#f3f3f3" fill-opacity="0.88" stroke="#8a8a8a" stroke-width="1.1"/><path d="M5.7,-8.8 C17.2,-12.6 40.2,-8.8 55.7,-0.5" fill="none" stroke="#555" stroke-width="1.2" opacity="0.7"/></g>
<polygon points="491.5,1021.5 488.5,1073.0 505.5,1074.0 508.5,1022.5" fill="#7d4f22"/><polygon points="492.8,1021.6 489.9,1072.5 501.3,1073.1 504.2,1022.2" fill="#a87136"/><polygon points="494.7,1021.7 491.8,1072.0 496.6,1072.3 499.5,1022.0" fill="#c08a4a"/><ellipse cx="497.0" cy="1073.5" rx="2.2" ry="8.5" fill="#4a3018" transform="rotate(93.3 497.0 1073.5)"/>
<g transform="translate(497.0 1073.5) rotate(108.3)" opacity="0.85"><path d="M0,-6.1 C14.1,-13.8 39.4,-9.9 56.4,0 C39.4,9.9 14.1,13.8 0,6.1 Z" fill="#f3f3f3" fill-opacity="0.88" stroke="#8a8a8a" stroke-width="1.1"/><path d="M5.6,-8.8 C16.9,-12.6 39.4,-8.8 54.7,-0.5" fill="none" stroke="#555" stroke-width="1.2" opacity="0.7"/></g>
<polygon points="570.2,1021.6 584.7,1071.1 568.3,1075.9 553.8,1026.4" fill="#7d4f22"/><polygon points="568.9,1022.0 583.2,1070.9 572.3,1074.1 557.9,1025.2" fill="#a87136"/><polygon points="567.1,1022.5 581.2,1070.9 576.7,1072.2 562.5,1023.9" fill="#c08a4a"/><ellipse cx="576.5" cy="1073.5" rx="2.2" ry="8.5" fill="#4a3018" transform="rotate(73.7 576.5 1073.5)"/>
<g transform="translate(576.5 1073.5) rotate(63.4)" opacity="0.85"><path d="M0,-6.1 C13.8,-13.8 38.8,-9.9 55.4,0 C38.8,9.9 13.8,13.8 0,6.1 Z" fill="#f3f3f3" fill-opacity="0.88" stroke="#8a8a8a" stroke-width="1.1"/><path d="M5.5,-8.8 C16.6,-12.6 38.8,-8.8 53.7,-0.5" fill="none" stroke="#555" stroke-width="1.2" opacity="0.7"/></g>
<polygon points="598.7,1020.7 638.7,1056.3 627.3,1068.9 587.3,1033.3" fill="#7d4f22"/><polygon points="597.8,1021.6 637.3,1056.8 629.7,1065.4 590.2,1030.2" fill="#a87136"/><polygon points="596.5,1023.1 635.6,1057.9 632.4,1061.4 593.3,1026.6" fill="#c08a4a"/><ellipse cx="633.0" cy="1062.6" rx="2.2" ry="8.5" fill="#4a3018" transform="rotate(41.7 633.0 1062.6)"/>
<g transform="translate(633.0 1062.6) rotate(57.1)" opacity="0.85"><path d="M0,-6.1 C14.1,-13.8 39.5,-9.9 56.5,0 C39.5,9.9 14.1,13.8 0,6.1 Z" fill="#f3f3f3" fill-opacity="0.88" stroke="#8a8a8a" stroke-width="1.1"/><path d="M5.6,-8.8 C16.9,-12.6 39.5,-8.8 54.8,-0.5" fill="none" stroke="#555" stroke-width="1.2" opacity="0.7"/></g>
<g transform="translate(393.0 931.5) rotate(-179.1)" opacity="0.90"><path d="M0,-3.3 C7.9,-7.5 22.0,-5.4 31.4,0 C22.0,5.4 7.9,7.5 0,3.3 Z" fill="#f3f3f3" fill-opacity="0.88" stroke="#8a8a8a" stroke-width="1.1"/><path d="M3.1,-4.8 C9.4,-6.9 22.0,-4.8 30.5,-0.5" fill="none" stroke="#555" stroke-width="1.2" opacity="0.7"/></g>
<g transform="translate(393.0 949.5) rotate(-174.1)" opacity="1.00"><path d="M0,-3.6 C12.2,-8.1 34.1,-5.9 48.8,0 C34.1,5.9 12.2,8.1 0,3.6 Z" fill="#f3f3f3" fill-opacity="0.88" stroke="#8a8a8a" stroke-width="1.1"/><path d="M4.9,-5.2 C14.6,-7.5 34.1,-5.2 47.3,-0.5" fill="none" stroke="#555" stroke-width="1.2" opacity="0.7"/></g>
<polygon points="445.6,930.0 394.7,928.0 394.3,938.0 445.2,940.0" fill="#7d4f22"/><polygon points="445.6,930.8 395.3,928.8 395.0,935.5 445.3,937.5" fill="#a87136"/><polygon points="445.5,931.9 395.8,929.9 395.7,932.7 445.4,934.7" fill="#c08a4a"/><ellipse cx="394.5" cy="933.0" rx="2.2" ry="5.0" fill="#4a3018" transform="rotate(-177.7 394.5 933.0)"/>
<polygon points="445.2,939.5 394.3,941.5 394.7,952.5 445.6,950.5" fill="#7d4f22"/><polygon points="445.2,940.3 394.9,942.3 395.2,949.7 445.5,947.7" fill="#a87136"/><polygon points="445.3,941.6 395.6,943.5 395.7,946.6 445.4,944.7" fill="#c08a4a"/><ellipse cx="394.5" cy="947.0" rx="2.2" ry="5.5" fill="#4a3018" transform="rotate(177.7 394.5 947.0)"/>
<g transform="translate(677.0 935.0) rotate(1.1)" opacity="1.00"><path d="M0,-3.6 C13.4,-8.1 37.6,-5.9 53.7,0 C37.6,5.9 13.4,8.1 0,3.6 Z" fill="#f3f3f3" fill-opacity="0.88" stroke="#8a8a8a" stroke-width="1.1"/><path d="M5.4,-5.2 C16.1,-7.5 37.6,-5.2 52.1,-0.5" fill="none" stroke="#555" stroke-width="1.2" opacity="0.7"/></g>
<g transform="translate(666.0 954.0) rotate(13.2)" opacity="0.90"><path d="M0,-3.0 C6.6,-6.9 18.4,-5.0 26.3,0 C18.4,5.0 6.6,6.9 0,3.0 Z" fill="#f3f3f3" fill-opacity="0.88" stroke="#8a8a8a" stroke-width="1.1"/><path d="M2.6,-4.4 C7.9,-6.3 18.4,-4.4 25.5,-0.5" fill="none" stroke="#555" stroke-width="1.2" opacity="0.7"/></g>
<polygon points="614.9,932.0 675.9,931.0 676.1,943.0 615.1,944.0" fill="#7d4f22"/><polygon points="614.9,932.9 675.3,931.9 675.4,940.0 615.0,941.0" fill="#a87136"/><polygon points="614.9,934.3 674.7,933.3 674.8,936.7 615.0,937.6" fill="#c08a4a"/><ellipse cx="676.0" cy="937.0" rx="2.2" ry="6.0" fill="#4a3018" transform="rotate(-0.9 676.0 937.0)"/>
<polygon points="615.4,942.5 664.4,946.5 663.6,955.5 614.6,951.5" fill="#7d4f22"/><polygon points="615.3,943.2 663.7,947.2 663.2,953.2 614.8,949.2" fill="#a87136"/><polygon points="615.2,944.2 663.0,948.1 662.8,950.6 615.0,946.7" fill="#c08a4a"/><ellipse cx="664.0" cy="951.0" rx="2.2" ry="4.5" fill="#4a3018" transform="rotate(4.7 664.0 951.0)"/>
<ellipse cx="532.5" cy="941" rx="62" ry="45" fill="url(#hubg)"/>
<path d="M471,944 Q532,950 594,944" fill="none" stroke="#8a6226" stroke-width="1.2" opacity="0.7"/>
<polygon points="469.1,936.0 533.1,937.5 532.9,942.5 468.9,941.0" fill="#5e3a18"/><polygon points="469.0,936.4 532.4,937.9 532.4,941.2 469.0,939.7" fill="#a06a36"/><polygon points="469.0,937.0 531.8,938.4 531.8,939.8 469.0,938.4" fill="#c99258"/>
<polygon points="553.1,938.0 597.1,939.0 596.9,944.0 552.9,943.0" fill="#5e3a18"/><polygon points="553.0,938.4 596.4,939.4 596.4,942.7 553.0,941.7" fill="#a06a36"/><polygon points="553.0,939.0 595.8,939.9 595.8,941.3 553.0,940.4" fill="#c99258"/>
<circle cx="542.7" cy="940" r="11.5" fill="#c9c2b4" stroke="#6e6250" stroke-width="1.5"/>
<circle cx="542.7" cy="940" r="7" fill="none" stroke="#8c7f6a" stroke-width="2" stroke-dasharray="2 1.6"/>
<circle cx="542.7" cy="940" r="3" fill="#efe9dc" stroke="#7a6f5c" stroke-width="1"/>
<path d="M527.9,477.1 L520.9,473.8 L513.8,471.3 L506.6,469.6 L499.3,468.5 L492.0,468.1 L484.6,468.3 L477.3,469.1 L470.1,470.3 L462.9,472.0 L455.8,474.1 L448.8,476.5 L441.8,479.2 L435.1,482.5 L428.9,486.6 L423.0,491.0 L417.3,495.7 L412.0,500.8 L406.9,506.2 L402.1,511.8 L397.5,517.7 L393.3,523.8 L389.3,530.0 L385.4,536.3 L381.6,542.6 L377.9,549.0 L374.3,555.4 L370.9,561.9 L367.5,568.5 L364.2,575.0 L361.0,581.6 L357.9,588.3 L354.9,595.0 L352.0,601.7 L349.1,608.4 L346.3,615.2 L343.7,622.0 L341.1,628.8 L338.6,635.7 L336.1,642.6 L333.8,649.5 L331.6,656.4 L329.4,663.4 L327.4,670.4 L325.4,677.4 L323.5,684.4 L321.7,691.4 L320.1,698.5 L318.5,705.6 L317.0,712.7 L315.6,719.7 L314.2,726.9 L313.0,734.0 L311.9,741.1 L310.8,748.2 L309.8,755.4 L308.9,762.5 L308.1,769.7 L307.3,776.9 L306.6,784.1 L306.0,791.2 L305.5,798.4 L305.0,805.6 L304.6,812.8 L304.2,820.0 L303.9,827.3 L303.6,834.5 L303.4,841.7 L303.3,848.9 L303.2,856.2 L303.1,863.4 L303.1,870.6 L303.1,877.9 L303.2,885.1 L303.3,892.4 L303.4,899.6 L303.5,906.8 L303.7,914.1 L303.9,921.3 L304.1,928.6 L304.4,935.8 L304.6,943.1 L304.9,950.3 L305.2,957.6 L305.6,964.9 L305.9,972.1 L306.3,979.4 L306.7,986.6 L307.1,993.9 L307.6,1001.2 L308.0,1008.4 L308.5,1015.7 L309.1,1023.0 L309.7,1030.2 L310.3,1037.5 L310.9,1044.7 L311.6,1052.0 L312.4,1059.2 L313.1,1066.4 L313.9,1073.6 L314.8,1080.9 L315.7,1088.1 L316.6,1095.3 L317.6,1102.5 L318.7,1109.7 L319.8,1116.8 L321.0,1124.0 L322.2,1131.1 L323.4,1138.3 L324.8,1145.4 L326.2,1152.5 L327.6,1159.6 L329.1,1166.7 L330.8,1173.7 L332.5,1180.8 L334.2,1187.8 L336.0,1194.8 L337.9,1201.8 L339.9,1208.8 L341.9,1215.7 L344.0,1222.6 L346.2,1229.5 L348.5,1236.4 L350.9,1243.3 L353.3,1250.1 L355.8,1256.9 L358.4,1263.7 L361.1,1270.4 L363.9,1277.2 L366.7,1283.9 L369.7,1290.6 L372.7,1297.2 L375.8,1303.8 L379.2,1310.4 L382.6,1316.9 L386.1,1323.3 L389.7,1329.8 L393.5,1336.2 L397.3,1342.5 L401.3,1348.8 L405.5,1355.0 L409.8,1361.0 L414.3,1366.9 L419.0,1372.6 L423.9,1378.1 L429.0,1383.5 L434.5,1388.3 L440.3,1392.9 L446.3,1397.1 L452.5,1401.0 L458.9,1404.6 L465.6,1407.6 L472.6,1410.3 L479.7,1412.5 L487.1,1414.4 L494.5,1415.8 L502.1,1416.7 L509.7,1417.2 L517.3,1417.2 L525.0,1416.8 L524.4,1412.1 L517.2,1412.8 L509.9,1412.7 L502.7,1411.9 L495.6,1410.5 L488.7,1408.5 L482.0,1406.0 L475.6,1403.1 L469.6,1399.8 L463.9,1396.0 L458.4,1392.1 L453.2,1387.9 L448.2,1383.4 L443.6,1378.6 L439.0,1373.7 L434.5,1368.6 L430.2,1363.4 L426.0,1357.9 L422.0,1352.3 L418.2,1346.5 L414.5,1340.5 L410.9,1334.4 L407.4,1328.2 L404.1,1321.9 L400.8,1315.6 L397.7,1309.2 L394.6,1302.7 L391.6,1296.3 L388.7,1289.9 L385.8,1283.4 L383.0,1276.9 L380.3,1270.4 L377.7,1263.8 L375.1,1257.3 L372.7,1250.7 L370.3,1244.0 L368.0,1237.4 L365.8,1230.7 L363.7,1224.0 L361.6,1217.3 L359.6,1210.5 L357.7,1203.7 L355.9,1196.9 L354.1,1190.1 L352.4,1183.3 L350.7,1176.4 L349.2,1169.5 L347.7,1162.6 L346.2,1155.7 L344.8,1148.8 L343.4,1141.8 L342.1,1134.9 L340.8,1127.9 L339.6,1120.9 L338.5,1113.9 L337.4,1106.8 L336.3,1099.8 L335.3,1092.7 L334.4,1085.7 L333.5,1078.6 L332.6,1071.5 L331.8,1064.4 L331.0,1057.2 L330.3,1050.1 L329.6,1043.0 L328.9,1035.8 L328.3,1028.7 L327.7,1021.5 L327.2,1014.3 L326.6,1007.1 L326.2,1000.0 L325.7,992.8 L325.3,985.6 L324.8,978.4 L324.5,971.2 L324.1,964.0 L323.7,956.8 L323.4,949.6 L323.1,942.4 L322.8,935.1 L322.5,927.9 L322.3,920.8 L322.0,913.6 L321.8,906.4 L321.6,899.2 L321.5,892.0 L321.4,884.9 L321.3,877.7 L321.2,870.6 L321.2,863.4 L321.2,856.3 L321.3,849.2 L321.4,842.1 L321.6,835.0 L321.8,827.9 L322.0,820.8 L322.4,813.8 L322.7,806.7 L323.2,799.6 L323.7,792.6 L324.2,785.6 L324.9,778.6 L325.6,771.6 L326.3,764.6 L327.2,757.6 L328.1,750.7 L329.1,743.7 L330.2,736.8 L331.3,729.9 L332.6,723.0 L333.9,716.1 L335.3,709.2 L336.8,702.3 L338.4,695.5 L340.1,688.7 L341.9,681.8 L343.8,675.0 L345.7,668.3 L347.8,661.5 L349.9,654.8 L352.2,648.0 L354.5,641.4 L356.9,634.7 L359.4,628.0 L361.9,621.4 L364.6,614.8 L367.3,608.3 L370.2,601.7 L373.1,595.2 L376.1,588.8 L379.1,582.3 L382.3,575.9 L385.5,569.6 L388.9,563.2 L392.2,556.9 L395.6,550.6 L399.1,544.4 L402.7,538.3 L406.4,532.4 L410.2,526.6 L414.0,520.8 L418.0,515.3 L422.1,510.0 L426.5,504.9 L431.0,499.9 L435.8,495.3 L440.9,491.0 L446.2,486.7 L451.8,482.6 L457.9,479.1 L464.3,476.3 L471.0,474.0 L477.9,472.3 L484.9,471.2 L492.0,470.9 L499.1,471.1 L506.1,472.1 L513.1,473.8 L520.0,476.2 L526.7,479.4Z" fill="url(#band)"/>
<path d="M538.0,478.9 L545.0,476.0 L552.1,473.9 L559.2,472.5 L566.3,471.8 L573.4,472.0 L580.4,472.6 L587.4,474.0 L594.1,475.9 L600.7,478.5 L607.0,481.6 L613.0,485.4 L618.6,489.7 L624.1,493.8 L629.4,498.2 L634.5,503.0 L639.4,507.9 L644.1,513.0 L648.6,518.4 L652.9,524.0 L657.2,529.6 L661.3,535.3 L665.3,541.2 L669.2,547.1 L672.8,553.1 L676.3,559.2 L679.7,565.4 L683.0,571.6 L686.2,577.9 L689.2,584.3 L692.1,590.8 L694.9,597.3 L697.6,603.8 L700.2,610.5 L702.7,617.1 L705.2,623.9 L707.5,630.6 L709.8,637.4 L712.0,644.3 L714.1,651.2 L716.2,658.1 L718.3,665.1 L720.3,672.0 L722.2,679.0 L724.2,686.0 L726.1,693.0 L728.0,700.1 L729.9,707.1 L731.8,714.1 L733.7,721.2 L735.6,728.2 L737.6,735.2 L739.5,742.2 L741.5,749.1 L743.4,756.0 L745.3,762.9 L747.1,769.7 L748.8,776.5 L750.3,783.3 L751.6,790.1 L752.7,797.1 L753.7,804.0 L754.5,811.0 L755.2,818.1 L755.7,825.2 L756.2,832.3 L756.5,839.5 L756.8,846.7 L757.0,853.8 L757.1,861.0 L757.2,868.2 L757.2,875.3 L757.2,882.4 L757.2,889.5 L757.1,896.7 L757.0,903.8 L756.9,910.9 L756.7,918.0 L756.5,925.1 L756.3,932.2 L756.1,939.4 L755.9,946.6 L755.6,953.8 L755.3,961.0 L755.0,968.2 L754.7,975.4 L754.4,982.6 L754.0,989.9 L753.6,997.1 L753.2,1004.4 L752.7,1011.6 L752.2,1018.9 L751.7,1026.1 L751.1,1033.4 L750.5,1040.7 L749.9,1047.9 L749.2,1055.1 L748.5,1062.4 L747.7,1069.6 L746.8,1076.8 L746.0,1084.0 L745.0,1091.2 L744.0,1098.4 L743.0,1105.6 L741.9,1112.7 L740.7,1119.9 L739.5,1127.0 L738.2,1134.1 L736.9,1141.2 L735.4,1148.2 L734.0,1155.3 L732.4,1162.3 L730.9,1169.3 L729.2,1176.2 L727.5,1183.1 L725.7,1190.0 L723.8,1196.9 L721.8,1203.8 L719.7,1210.6 L717.6,1217.3 L715.4,1224.1 L713.1,1230.8 L710.7,1237.4 L708.2,1244.0 L705.6,1250.6 L702.9,1257.1 L700.1,1263.6 L697.2,1270.1 L694.2,1276.5 L691.2,1282.8 L688.0,1289.1 L684.7,1295.4 L681.4,1301.6 L677.9,1307.8 L674.4,1314.0 L670.7,1320.1 L666.9,1326.1 L663.0,1332.1 L659.0,1338.0 L654.9,1343.9 L650.6,1349.7 L646.2,1355.3 L641.7,1360.9 L637.1,1366.2 L632.3,1371.4 L627.4,1376.4 L622.6,1381.3 L617.5,1386.0 L612.3,1390.5 L606.9,1394.6 L601.3,1398.4 L595.5,1402.0 L589.4,1405.2 L583.0,1407.9 L576.4,1410.1 L569.6,1411.9 L562.4,1413.1 L555.0,1413.6 L547.3,1413.5 L539.4,1412.6 L538.8,1417.2 L547.1,1417.7 L555.1,1417.8 L562.8,1417.4 L570.4,1416.7 L577.8,1415.5 L585.0,1413.9 L592.0,1411.8 L598.9,1409.3 L605.7,1406.5 L612.3,1403.2 L618.6,1399.5 L624.8,1395.4 L630.9,1391.0 L636.8,1386.4 L642.3,1381.3 L647.6,1376.0 L652.7,1370.5 L657.7,1364.8 L662.5,1359.0 L667.2,1353.1 L671.7,1347.2 L676.1,1341.1 L680.4,1335.1 L684.6,1328.9 L688.6,1322.7 L692.5,1316.4 L696.4,1310.1 L700.0,1303.7 L703.5,1297.3 L706.9,1290.7 L710.2,1284.2 L713.4,1277.5 L716.4,1270.9 L719.4,1264.2 L722.2,1257.4 L725.0,1250.6 L727.6,1243.8 L730.2,1236.9 L732.7,1230.0 L735.0,1223.1 L737.3,1216.1 L739.5,1209.1 L741.6,1202.0 L743.6,1195.0 L745.6,1187.9 L747.4,1180.8 L749.2,1173.6 L750.9,1166.5 L752.5,1159.3 L754.0,1152.0 L755.5,1144.8 L756.8,1137.5 L758.1,1130.3 L759.4,1123.0 L760.5,1115.7 L761.6,1108.4 L762.7,1101.0 L763.7,1093.7 L764.6,1086.4 L765.5,1079.0 L766.3,1071.7 L767.1,1064.3 L767.8,1057.0 L768.5,1049.6 L769.1,1042.2 L769.7,1034.9 L770.3,1027.5 L770.8,1020.2 L771.3,1012.8 L771.7,1005.5 L772.2,998.2 L772.5,990.8 L772.9,983.5 L773.2,976.2 L773.5,968.9 L773.8,961.7 L774.0,954.4 L774.3,947.2 L774.5,940.0 L774.7,932.8 L774.9,925.6 L775.0,918.4 L775.1,911.2 L775.2,904.0 L775.3,896.8 L775.4,889.6 L775.4,882.4 L775.3,875.2 L775.2,868.0 L775.1,860.7 L775.0,853.4 L774.7,846.1 L774.4,838.7 L774.0,831.3 L773.5,823.9 L772.9,816.5 L772.2,809.1 L771.3,801.7 L770.2,794.4 L769.0,787.0 L767.5,779.7 L765.9,772.5 L764.1,765.3 L762.2,758.3 L760.3,751.3 L758.3,744.3 L756.2,737.4 L754.3,730.5 L752.3,723.6 L750.4,716.6 L748.4,709.6 L746.5,702.6 L744.6,695.5 L742.6,688.5 L740.7,681.4 L738.7,674.4 L736.6,667.3 L734.6,660.3 L732.5,653.2 L730.3,646.2 L728.1,639.2 L725.8,632.2 L723.4,625.2 L721.0,618.2 L718.5,611.3 L715.9,604.4 L713.1,597.6 L710.3,590.8 L707.3,584.0 L704.3,577.3 L701.1,570.6 L697.7,564.0 L694.2,557.5 L690.5,551.1 L686.7,544.7 L682.7,538.4 L678.5,532.2 L674.1,526.1 L669.5,520.1 L664.7,514.3 L659.5,508.7 L654.2,503.4 L648.6,498.2 L642.7,493.4 L636.6,489.0 L630.3,484.9 L623.7,481.1 L616.7,478.3 L609.6,475.8 L602.5,473.6 L595.3,471.7 L588.1,470.3 L580.8,469.3 L573.5,468.9 L566.1,469.2 L558.8,469.9 L551.4,471.4 L544.1,473.6 L536.9,476.6Z" fill="url(#band)"/>
<rect x="527" y="470.3" width="11.6" height="9.5" rx="1.5" fill="#141414"/>
<ellipse cx="532.5" cy="489" rx="30" ry="4.5" fill="#3c3c3c"/>
<rect x="502.5" y="480.5" width="7.0" height="13.0" rx="1.5" fill="#0d0d0d"/>
<rect x="518.1" y="482.5" width="7.0" height="13.0" rx="1.5" fill="#0d0d0d"/>
<rect x="540.5" y="482.5" width="7.0" height="13.0" rx="1.5" fill="#0d0d0d"/>
<rect x="555.5" y="480.5" width="7.0" height="13.0" rx="1.5" fill="#0d0d0d"/>
<polygon points="528.5,479 536.5,479 536.3,520 528.3,520" fill="url(#rod)"/>
<ellipse cx="529" cy="1411" rx="30" ry="4" fill="#2c2c2c"/>
<rect x="499.5" y="1399.0" width="7.0" height="12.0" rx="1.5" fill="#0d0d0d"/>
<rect x="514.5" y="1398.0" width="7.0" height="12.0" rx="1.5" fill="#0d0d0d"/>
<rect x="537.5" y="1398.0" width="7.0" height="12.0" rx="1.5" fill="#0d0d0d"/>
<rect x="552.5" y="1399.0" width="7.0" height="12.0" rx="1.5" fill="#0d0d0d"/>
<polygon points="525,1380 534,1380 533.6,1416 524.6,1416" fill="url(#rod)"/>
<ellipse cx="529" cy="1417" rx="6.5" ry="2.2" fill="#b98a35"/>
</svg></body></html>
